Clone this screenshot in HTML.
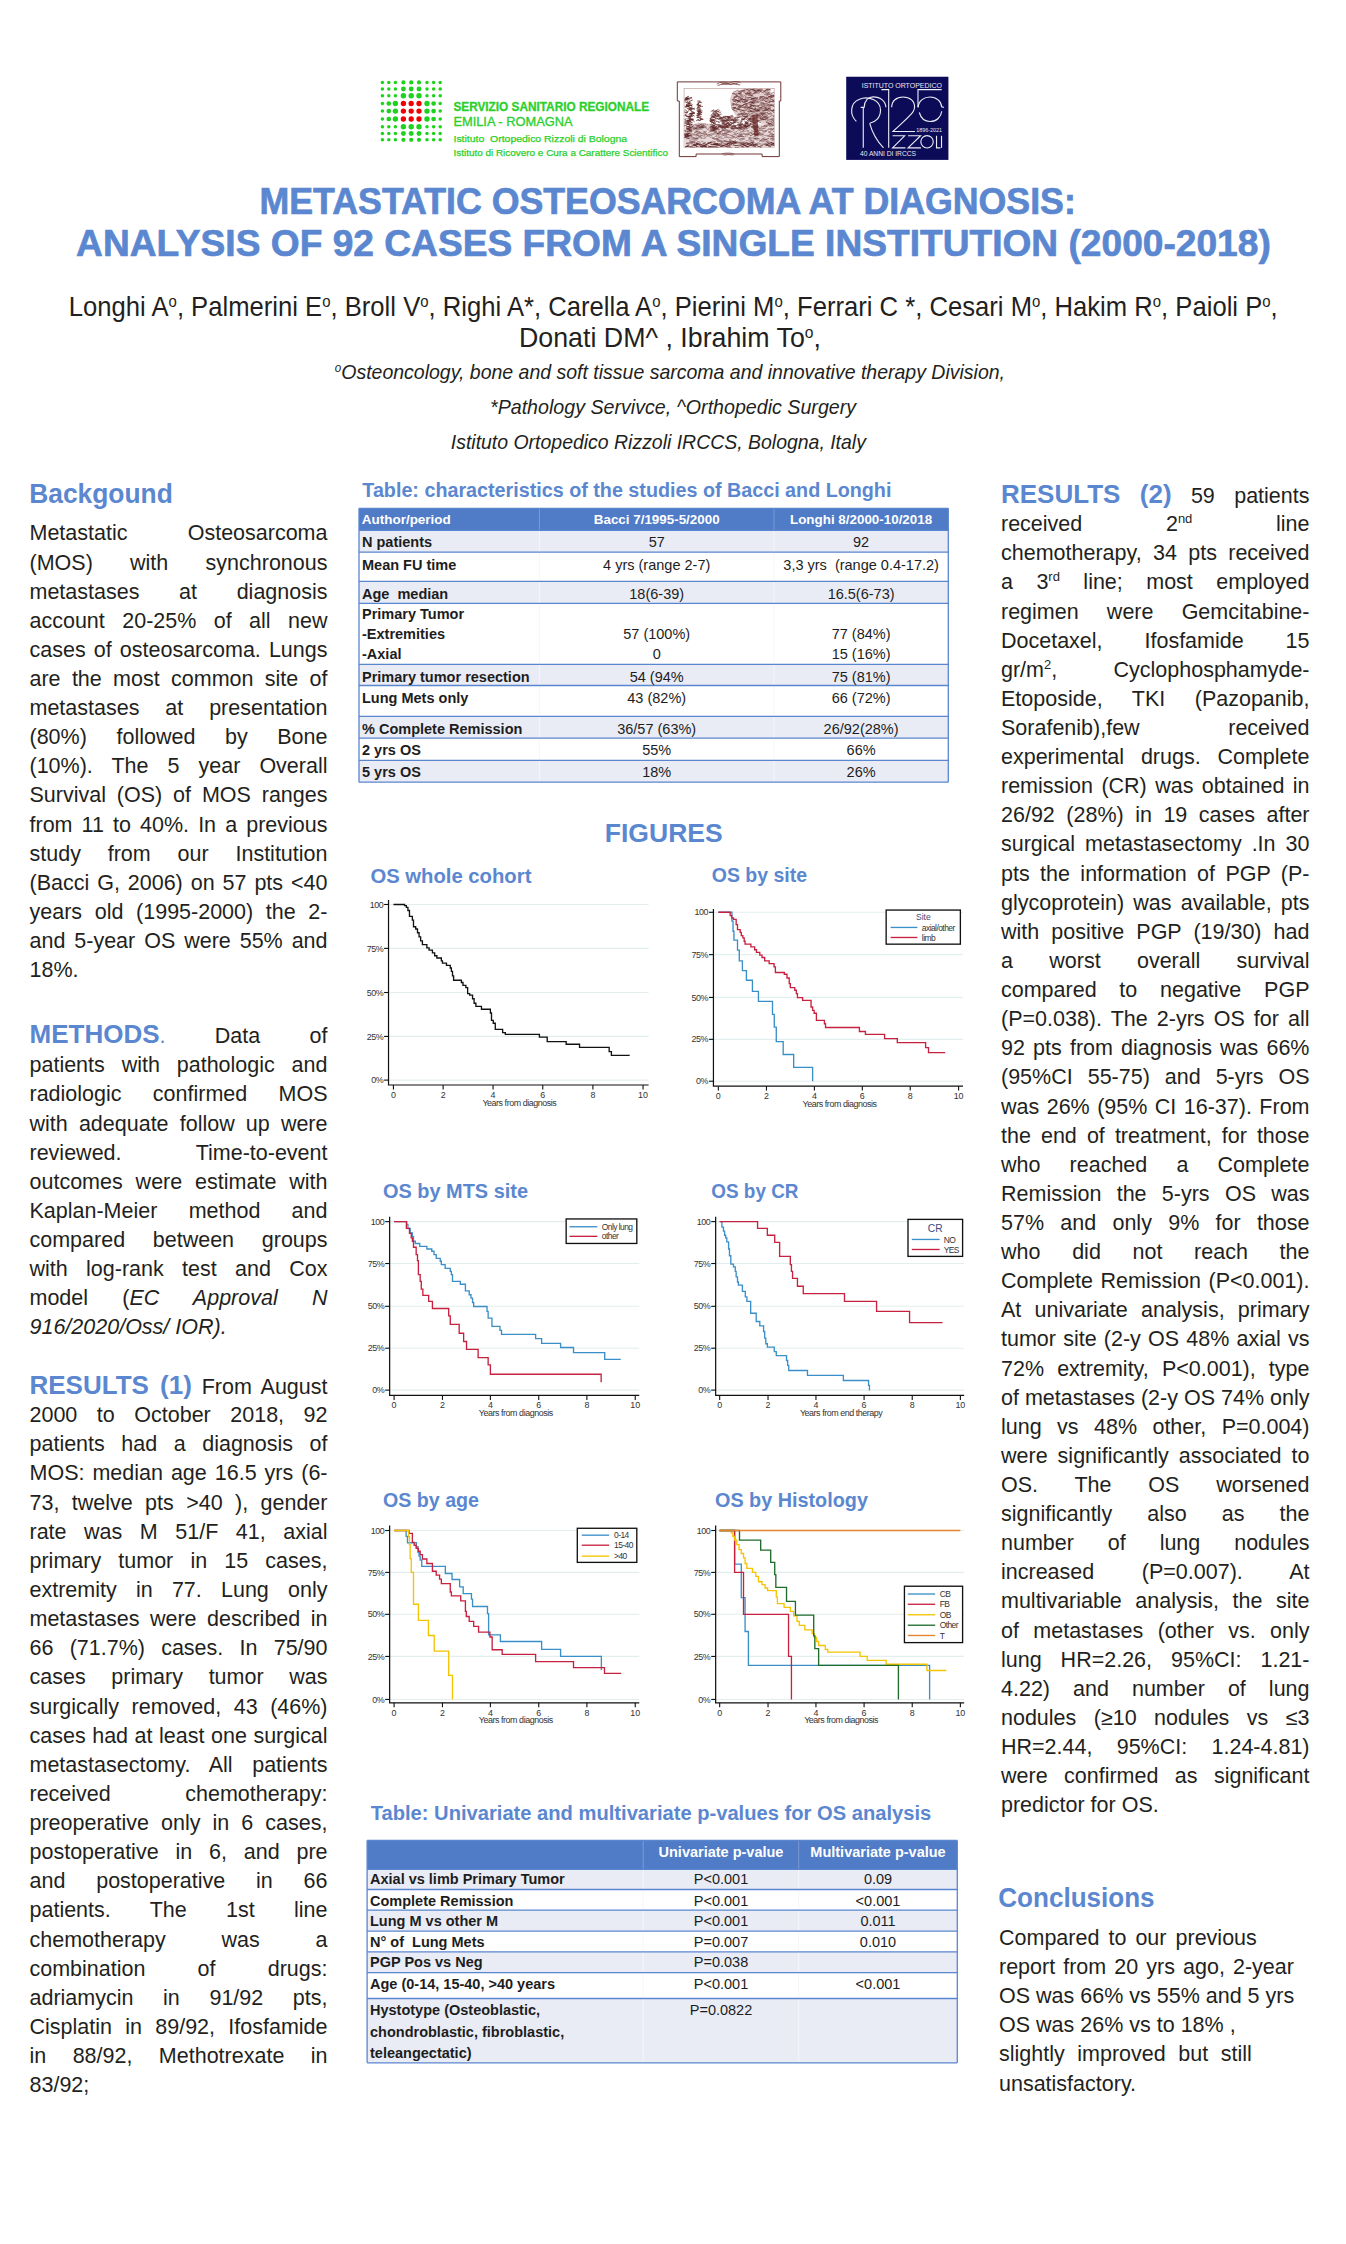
<!DOCTYPE html>
<html><head><meta charset="utf-8"><title>Metastatic Osteosarcoma at Diagnosis</title>
<style>
html,body{margin:0;padding:0;background:#fff}
body{width:1346px;height:2244px;position:relative;overflow:hidden;font-family:"Liberation Sans",sans-serif;color:#231f20}
.j,.l{position:absolute;white-space:nowrap;font-size:21.5px;line-height:40px;height:40px}
.j{text-align:justify;text-align-last:justify}
.l{text-align:left}
.h{font-weight:bold;color:#5b87d0}
.hb{color:#5b87d0}
.sup{font-size:13px;position:relative;top:-8px}
svg{position:absolute;left:0;top:0}
svg text{font-family:"Liberation Sans",sans-serif;white-space:pre}
</style></head><body>
<svg width="1346" height="2244" viewBox="0 0 1346 2244">
<circle cx="382.4" cy="82.4" r="1.75" fill="#1ed21e"/>
<circle cx="388.8" cy="82.4" r="1.75" fill="#1ed21e"/>
<circle cx="395.4" cy="82.4" r="1.75" fill="#1ed21e"/>
<circle cx="403.4" cy="82.4" r="2.1" fill="#1ed21e"/>
<circle cx="411.2" cy="82.4" r="2.1" fill="#1ed21e"/>
<circle cx="419.0" cy="82.4" r="2.1" fill="#1ed21e"/>
<circle cx="427.0" cy="82.4" r="1.75" fill="#1ed21e"/>
<circle cx="433.6" cy="82.4" r="1.75" fill="#1ed21e"/>
<circle cx="440.2" cy="82.4" r="1.75" fill="#1ed21e"/>
<circle cx="382.4" cy="89.0" r="1.75" fill="#1ed21e"/>
<circle cx="388.8" cy="89.0" r="1.75" fill="#1ed21e"/>
<circle cx="395.4" cy="89.0" r="1.75" fill="#1ed21e"/>
<circle cx="403.4" cy="89.0" r="2.45" fill="#1ed21e"/>
<circle cx="411.2" cy="89.0" r="2.45" fill="#1ed21e"/>
<circle cx="419.0" cy="89.0" r="2.45" fill="#1ed21e"/>
<circle cx="427.0" cy="89.0" r="1.75" fill="#1ed21e"/>
<circle cx="433.6" cy="89.0" r="1.75" fill="#1ed21e"/>
<circle cx="440.2" cy="89.0" r="1.75" fill="#1ed21e"/>
<circle cx="382.4" cy="95.7" r="1.75" fill="#1ed21e"/>
<circle cx="388.8" cy="95.7" r="1.75" fill="#1ed21e"/>
<circle cx="395.4" cy="95.7" r="1.75" fill="#1ed21e"/>
<circle cx="403.4" cy="95.7" r="2.7" fill="#1ed21e"/>
<circle cx="411.2" cy="95.7" r="2.7" fill="#1ed21e"/>
<circle cx="419.0" cy="95.7" r="2.7" fill="#1ed21e"/>
<circle cx="427.0" cy="95.7" r="1.75" fill="#1ed21e"/>
<circle cx="433.6" cy="95.7" r="1.75" fill="#1ed21e"/>
<circle cx="440.2" cy="95.7" r="1.75" fill="#1ed21e"/>
<circle cx="382.4" cy="103.5" r="1.75" fill="#1ed21e"/>
<circle cx="388.8" cy="103.5" r="2.35" fill="#1ed21e"/>
<circle cx="395.4" cy="103.5" r="2.7" fill="#1ed21e"/>
<circle cx="403.4" cy="103.5" r="2.65" fill="#f00000"/>
<circle cx="411.2" cy="103.5" r="2.65" fill="#f00000"/>
<circle cx="419.0" cy="103.5" r="2.65" fill="#f00000"/>
<circle cx="427.0" cy="103.5" r="2.7" fill="#1ed21e"/>
<circle cx="433.6" cy="103.5" r="2.35" fill="#1ed21e"/>
<circle cx="440.2" cy="103.5" r="1.75" fill="#1ed21e"/>
<circle cx="382.4" cy="111.1" r="1.75" fill="#1ed21e"/>
<circle cx="388.8" cy="111.1" r="2.35" fill="#1ed21e"/>
<circle cx="395.4" cy="111.1" r="2.7" fill="#1ed21e"/>
<circle cx="403.4" cy="111.1" r="2.65" fill="#f00000"/>
<circle cx="411.2" cy="111.1" r="2.65" fill="#f00000"/>
<circle cx="419.0" cy="111.1" r="2.65" fill="#f00000"/>
<circle cx="427.0" cy="111.1" r="2.7" fill="#1ed21e"/>
<circle cx="433.6" cy="111.1" r="2.35" fill="#1ed21e"/>
<circle cx="440.2" cy="111.1" r="1.75" fill="#1ed21e"/>
<circle cx="382.4" cy="119.0" r="1.75" fill="#1ed21e"/>
<circle cx="388.8" cy="119.0" r="2.35" fill="#1ed21e"/>
<circle cx="395.4" cy="119.0" r="2.7" fill="#1ed21e"/>
<circle cx="403.4" cy="119.0" r="2.65" fill="#f00000"/>
<circle cx="411.2" cy="119.0" r="2.65" fill="#f00000"/>
<circle cx="419.0" cy="119.0" r="2.65" fill="#f00000"/>
<circle cx="427.0" cy="119.0" r="2.7" fill="#1ed21e"/>
<circle cx="433.6" cy="119.0" r="2.35" fill="#1ed21e"/>
<circle cx="440.2" cy="119.0" r="1.75" fill="#1ed21e"/>
<circle cx="382.4" cy="126.7" r="1.75" fill="#1ed21e"/>
<circle cx="388.8" cy="126.7" r="1.75" fill="#1ed21e"/>
<circle cx="395.4" cy="126.7" r="1.75" fill="#1ed21e"/>
<circle cx="403.4" cy="126.7" r="2.7" fill="#1ed21e"/>
<circle cx="411.2" cy="126.7" r="2.7" fill="#1ed21e"/>
<circle cx="419.0" cy="126.7" r="2.7" fill="#1ed21e"/>
<circle cx="427.0" cy="126.7" r="1.75" fill="#1ed21e"/>
<circle cx="433.6" cy="126.7" r="1.75" fill="#1ed21e"/>
<circle cx="440.2" cy="126.7" r="1.75" fill="#1ed21e"/>
<circle cx="382.4" cy="133.5" r="1.75" fill="#1ed21e"/>
<circle cx="388.8" cy="133.5" r="1.75" fill="#1ed21e"/>
<circle cx="395.4" cy="133.5" r="1.75" fill="#1ed21e"/>
<circle cx="403.4" cy="133.5" r="2.45" fill="#1ed21e"/>
<circle cx="411.2" cy="133.5" r="2.45" fill="#1ed21e"/>
<circle cx="419.0" cy="133.5" r="2.45" fill="#1ed21e"/>
<circle cx="427.0" cy="133.5" r="1.75" fill="#1ed21e"/>
<circle cx="433.6" cy="133.5" r="1.75" fill="#1ed21e"/>
<circle cx="440.2" cy="133.5" r="1.75" fill="#1ed21e"/>
<circle cx="382.4" cy="139.8" r="1.75" fill="#1ed21e"/>
<circle cx="388.8" cy="139.8" r="1.75" fill="#1ed21e"/>
<circle cx="395.4" cy="139.8" r="1.75" fill="#1ed21e"/>
<circle cx="403.4" cy="139.8" r="2.1" fill="#1ed21e"/>
<circle cx="411.2" cy="139.8" r="2.1" fill="#1ed21e"/>
<circle cx="419.0" cy="139.8" r="2.1" fill="#1ed21e"/>
<circle cx="427.0" cy="139.8" r="1.75" fill="#1ed21e"/>
<circle cx="433.6" cy="139.8" r="1.75" fill="#1ed21e"/>
<circle cx="440.2" cy="139.8" r="1.75" fill="#1ed21e"/>
<text x="453.4" y="110.9" font-size="12.4" font-weight="bold" fill="#2bcf2b" textLength="195.7" lengthAdjust="spacingAndGlyphs" stroke="#2bcf2b" stroke-width="0.3">SERVIZIO SANITARIO REGIONALE</text>
<text x="453.4" y="125.6" font-size="12.4" fill="#2bcf2b" textLength="119.2" lengthAdjust="spacingAndGlyphs" stroke="#2bcf2b" stroke-width="0.3">EMILIA - ROMAGNA</text>
<text x="453.5" y="141.6" font-size="9.6" fill="#2bcf2b" textLength="173.6" lengthAdjust="spacingAndGlyphs" stroke="#2bcf2b" stroke-width="0.25">Istituto  Ortopedico Rizzoli di Bologna</text>
<text x="453.5" y="155.5" font-size="9.6" fill="#2bcf2b" textLength="214.5" lengthAdjust="spacingAndGlyphs" stroke="#2bcf2b" stroke-width="0.25">Istituto di Ricovero e Cura a Carattere Scientifico</text>
<path d="M677.3,81.9 L780.8,81.9 L780.8,101.0 L779.3,101.0 L779.3,156.6 L762.1,156.6 L762.1,154.0 L696.1,154.0 L696.1,156.6 L679.3,156.6 L679.3,101.0 L677.3,101.0 L677.3,81.9" fill="none" stroke="#6e3434" stroke-width="1.0"/>
<g transform="translate(672,76) scale(0.08621)">
<clipPath id="etc"><rect x="140" y="145" width="1045" height="685"/></clipPath>
<rect x="140" y="145" width="1045" height="685" fill="#fff" stroke="#c0a0a0" stroke-width="8"/>
<path d="M140,600 L300,540 L500,560 L700,590 L900,560 L1185,560 L1185,830 L140,830 Z" fill="#e7d9d9"/>
<path d="M670,270 L700,190 L820,150 L980,150 L1120,160 L1185,220 L1185,560 L1060,560 L960,520 L860,510 L740,460 L690,380 Z" fill="#e2d0d0"/>
<path d="M930,450 L955,700 L1005,700 L990,450 Z" fill="#8a5050"/>
<path d="M520,95 C560,60 620,70 660,85 C700,60 760,55 795,80 M530,110 C580,90 620,100 660,95 C700,90 750,95 790,105 M560,75 C600,105 640,70 680,100 C720,70 760,100 770,75" fill="none" stroke="#7a4545" stroke-width="10"/>
<path d="M575,905 C610,890 690,890 725,905 M600,918 C640,910 680,910 710,918" fill="none" stroke="#7a4545" stroke-width="8"/>
<g clip-path="url(#etc)">
<path d="M181 513q28 -1 57 -2 M193 337q20 -2 40 6 M148 393q11 1 22 9 M144 712q29 4 58 11 M154 257q18 -5 36 -21 M162 264q19 -7 38 -3 M187 551q20 5 39 8 M204 398q14 3 28 -7 M209 438q27 -11 53 -7 M159 678q16 12 33 21 M147 546q25 -0 49 -14 M170 703q23 -7 45 -22 M149 278q24 -11 48 -20 M180 340q22 -13 45 -21 M150 448q14 -11 27 -8 M212 393q26 -8 52 -19 M217 552q10 11 20 13 M163 613q16 3 32 -8 M148 524q15 4 30 4 M184 520q25 -5 51 -20 M162 339q21 17 43 25 M194 448q10 -14 21 -13 M161 581q14 4 28 11 M166 332q21 -8 42 -24 M190 651q22 -12 43 -12 M158 258q15 6 31 -2 M156 423q19 -7 39 -18 M199 575q20 -2 39 -18 M142 678q20 20 41 25 M197 477q24 -13 48 -11 M147 507q22 8 44 23 M222 415q21 5 42 22 M178 622q27 0 54 5 M174 524q19 -13 39 -21 M206 433q25 3 49 5 M194 476q14 3 28 7 M163 255q16 8 31 7 M155 676q23 -8 46 -3 M169 563q14 -6 28 -2 M175 524q15 -7 30 -14 M165 329q18 -0 37 -10 M177 544q19 -10 39 -9 M147 265q23 -18 47 -29 M191 395q22 -8 43 -28 M181 262q25 -2 51 -16 M144 546q19 0 37 6 M202 344q18 0 36 -15 M182 586q13 -1 26 -7 M203 495q21 8 42 13 M148 688q22 -10 44 -21 M174 517q26 3 52 19 M182 556q14 -1 27 7 M198 587q13 -1 25 13 M211 401q26 14 51 23 M147 457q20 7 40 13 M143 630q11 9 21 8 M170 620q12 -6 23 -10 M148 354q20 -9 40 -10 M197 496q27 5 54 4 M174 647q26 -15 53 -19 M192 344q21 -2 41 0 M142 706q20 -7 40 -5 M191 481q21 -12 41 -24 M177 700q27 -7 55 -16 M151 454q23 13 47 24 M169 340q20 17 39 22 M157 357q23 -3 46 -10 M196 299q22 -11 44 -22 M163 343q21 0 41 -3 M177 499q12 -7 25 -9 M197 499q27 -2 54 7 M161 598q23 15 46 24 M168 684q12 2 24 16 M152 362q24 -1 47 -14 M215 448q23 -10 46 -22 M202 258q14 -4 27 6 M186 606q20 9 39 9 M146 300q11 0 21 1 M191 319q13 -10 26 -10 M149 279q29 -6 58 -3 M169 469q20 -3 40 -3 M141 579q25 -9 50 -20 M207 440q13 -6 26 -11 M141 670q25 1 51 13 M197 440q22 -8 44 0 M212 371q27 4 54 16 M213 441q25 9 50 25 M177 590q11 -2 22 -4 M141 417q23 8 45 7 M170 560q21 3 43 2 M203 608q25 -18 50 -32 M206 371q15 -4 31 -19 M174 296q13 6 27 14 M197 630q11 -3 23 3 M144 687q13 5 26 -1 M185 537q10 7 19 11 M187 531q17 -7 33 -9 M190 383q24 2 47 -12 M162 270q13 6 25 8 M145 715q25 -21 50 -28 M179 474q28 -9 56 -18 M214 534q12 3 24 4 M158 274q19 -8 37 -18 M200 464q15 3 30 3 M210 499q26 12 51 31 M161 304q26 7 52 19 M172 378q24 0 47 4 M197 604q13 -12 26 -8 M144 279q15 -3 31 -3 M149 505q10 -8 20 -11" fill="none" stroke="#5e2626" stroke-width="10" opacity="0.9"/>
<path d="M308 433q12 4 24 -1 M297 460q16 -3 31 -18 M320 432q16 -5 32 -12 M293 475q12 -6 24 4 M296 414q15 9 29 16 M298 308q16 -2 32 -18 M308 399q16 -8 31 -8 M284 335q14 -4 28 -15 M316 448q10 -2 20 -9 M316 371q9 1 17 4 M326 506q19 -6 38 -3 M295 360q11 -0 22 12 M292 370q12 -0 24 -4 M299 331q14 4 27 10 M322 417q9 -3 18 6 M294 290q14 -0 28 1 M320 300q13 12 27 10 M284 458q16 -11 33 -18 M287 460q15 -0 30 -9 M318 408q17 0 34 -4 M305 411q16 -3 32 8 M301 479q14 2 29 13 M322 494q19 3 38 7 M316 474q13 4 25 -2 M317 518q11 -0 22 -9 M301 354q17 -7 34 -20 M286 437q16 1 32 -13 M303 422q16 -4 32 -20 M289 336q10 1 20 5 M291 328q10 -8 20 -8 M296 414q18 3 35 -1 M324 500q12 -7 24 1 M304 337q7 -1 14 8 M299 409q13 -12 27 -7 M313 341q8 2 15 -1 M320 453q14 -1 28 -12 M296 346q18 -2 37 1 M307 320q14 -15 28 -19 M322 478q8 -6 16 -5 M285 398q11 6 23 14 M323 356q17 -8 35 -3 M285 479q10 0 20 1 M288 481q11 4 22 -5 M295 395q16 -6 32 -6 M285 378q11 2 22 14 M299 452q10 1 21 2 M281 518q16 -8 33 -12 M295 373q14 -1 28 -7 M300 442q10 -7 20 -8 M296 507q14 7 28 8 M369 822q20 -1 40 1 M337 829q35 -21 71 -34 M169 814q49 16 97 16 M207 822q48 -20 96 -27 M479 790q27 7 55 -0 M1149 791q43 -14 86 -16 M726 805q46 4 93 7 M321 820q42 -10 84 -4 M625 817q25 -6 51 -9 M410 830q54 6 108 19 M423 819q50 -4 100 -5 M824 792q20 -8 40 -16 M805 823q27 -10 54 -23 M311 793q36 14 72 16 M322 804q35 -17 71 -29 M730 828q53 15 106 16 M686 794q26 -18 52 -29 M826 794q23 15 47 31 M869 792q51 14 102 27 M257 802q20 -12 39 -14 M256 790q27 22 54 34 M575 807q22 9 43 3 M474 796q55 -1 109 -8 M484 795q25 -9 50 -11 M508 791q20 10 40 14 M423 822q54 10 108 7 M1014 818q20 -11 40 -10 M637 789q51 -13 103 -37 M866 829q38 -17 75 -49 M364 813q48 -27 96 -48 M1083 796q31 11 62 23 M790 787q46 13 92 32 M814 829q47 15 95 25 M153 830q19 -13 38 -23 M1177 802q23 -9 46 -30 M519 797q26 5 53 26 M1162 790q41 -17 82 -35 M663 796q45 -21 90 -31 M940 811q20 -15 41 -20 M1142 792q41 7 83 26 M282 790q22 7 43 10 M869 788q41 -10 82 -23 M757 828q25 16 50 18 M325 815q21 3 42 18 M369 815q36 23 72 46 M525 824q26 16 52 28 M566 822q43 -20 86 -34 M1173 800q39 4 78 15 M548 799q26 7 52 8 M934 788q47 21 93 38 M244 791q23 10 46 30 M165 780q40 -3 79 -4 M1019 822q21 14 42 26 M631 788q26 -7 53 -21 M709 793q26 -6 53 -27 M1092 802q32 -23 65 -31 M153 819q21 -5 42 -11 M616 815q39 17 78 19 M446 794q37 3 73 -7 M274 783q22 -4 43 8" fill="none" stroke="#5e2626" stroke-width="10" opacity="0.95"/>
<path d="M500 398q23 11 46 12 M631 580q19 -6 39 -21 M509 405q16 -16 32 -18 M644 500q22 2 44 14 M630 546q28 8 56 20 M619 500q24 8 48 20 M509 563q28 4 56 3 M688 550q25 -17 50 -19 M472 435q21 8 42 10 M882 508q21 5 42 3 M839 522q12 8 23 9 M717 579q14 8 27 2 M766 556q18 -3 35 4 M623 515q13 4 27 1 M910 522q19 -4 39 -4 M775 561q25 -8 50 -1 M849 584q18 -2 36 -3 M883 504q20 -8 41 -3 M793 596q24 -1 49 6 M582 520q10 -4 21 -10 M681 472q11 2 21 5 M464 598q29 -0 58 12 M641 572q14 3 28 8 M699 608q10 0 19 -6 M878 575q18 -4 35 -6 M679 604q30 4 59 -2 M578 601q26 -15 52 -20 M607 491q12 -2 24 12 M531 530q12 13 25 12 M483 553q14 2 29 15 M778 605q17 -5 33 -18 M584 549q13 -1 26 -10 M762 569q17 -3 34 7 M580 602q23 -8 45 -12 M475 616q19 0 38 1 M453 522q15 -9 30 -9 M474 445q24 -4 48 -15 M447 488q25 -10 50 -7 M708 533q17 -1 34 6 M688 499q26 6 53 12 M650 564q24 13 48 18 M720 497q11 -2 21 2 M716 589q12 2 25 -11 M678 481q18 -10 36 -11 M466 597q21 -4 43 2 M587 527q20 -7 39 -11 M474 576q13 2 26 -8 M775 579q22 -12 44 -26 M675 562q27 -12 54 -25 M550 593q13 2 25 -3 M447 619q24 11 49 14 M557 510q15 -8 30 -1 M921 525q11 -4 21 -3 M459 459q22 9 43 20 M626 582q17 10 33 12 M770 586q14 5 28 -4 M521 439q16 5 31 17 M507 604q16 2 33 11 M591 469q10 8 21 10 M815 502q11 3 22 -3 M450 412q19 -9 37 -23 M642 508q12 7 25 6 M793 538q12 -1 24 -9 M623 587q14 -1 28 -7 M442 529q20 0 40 15 M579 539q27 -13 54 -19 M644 471q11 1 22 -3 M509 474q18 -10 36 -15 M601 478q13 -2 26 3 M707 547q10 1 21 -3 M461 474q11 -1 22 -0 M604 593q20 -9 41 -12 M523 490q19 14 38 23 M718 606q25 2 50 8 M635 477q14 -0 29 12 M621 598q10 -5 20 -9 M526 431q22 1 45 -15 M550 496q23 -1 46 3 M710 579q29 -3 58 -12 M788 545q20 7 40 25 M510 527q20 4 40 3 M573 558q20 -2 39 -13 M481 548q12 -5 24 -1 M863 588q11 -3 21 -6 M597 561q25 9 50 21 M640 548q21 4 41 17 M493 467q22 -2 44 -15 M437 518q24 21 49 31 M454 550q11 -3 21 -13 M490 456q11 1 21 1 M830 580q16 -4 31 -4 M625 545q20 13 39 15 M544 493q17 2 33 -10 M462 594q14 -3 28 -16 M531 587q20 -7 39 -4 M705 536q22 -13 43 -12 M652 579q23 -2 45 -19 M467 463q24 -6 49 -11 M694 573q25 9 50 14 M832 578q21 20 42 28 M624 465q22 11 43 17 M570 597q15 -5 29 -15 M802 509q22 -3 44 -18 M501 461q15 -10 31 -21 M699 608q13 9 25 12 M634 548q13 -6 26 -7 M522 463q27 -14 54 -24 M619 533q14 -4 28 4 M858 529q20 8 40 3 M849 544q19 5 37 8 M730 515q17 -13 34 -22 M653 520q19 16 38 22 M631 588q10 7 21 14 M547 581q20 6 40 23 M829 500q26 -21 52 -30 M698 587q13 -6 27 -7 M467 511q26 4 51 -1 M830 584q25 -5 51 3 M448 460q25 17 50 21 M521 470q27 -3 53 8 M466 617q14 -4 28 4 M764 481q10 1 20 -4 M732 545q12 -9 25 -12 M488 606q22 1 44 -8 M927 544q24 -1 49 -8 M746 479q26 -2 52 -6 M683 606q16 8 33 8 M857 541q17 11 33 19 M802 522q16 -8 33 -19 M571 483q28 -10 56 -14 M840 583q22 8 44 2 M612 467q24 7 48 10 M442 530q19 -3 38 -6 M588 539q19 4 37 24 M844 534q20 20 40 27 M661 473q22 -16 44 -15 M535 466q13 -5 26 -3 M472 416q23 -0 45 7 M557 574q23 14 47 16 M606 506q18 -14 37 -19 M581 499q12 7 25 2 M474 500q15 9 30 10 M539 486q21 -7 42 -2 M482 583q11 7 22 14 M633 525q23 16 46 29 M839 555q22 -10 44 -19 M580 612q21 17 42 19 M674 535q24 13 48 28 M680 596q17 -8 35 -9 M645 492q17 -1 34 -3 M455 580q11 -0 22 1 M480 466q16 4 33 -1 M805 494q10 -9 20 -2 M434 520q29 -6 58 -9 M735 519q16 -0 33 -0 M476 437q14 7 29 11 M573 542q10 1 20 13 M840 568q20 -16 39 -23 M454 528q18 8 37 21 M441 604q25 10 50 5 M654 482q12 -6 24 -5 M466 403q26 5 52 11 M487 404q14 7 28 17 M637 506q24 -18 48 -23 M646 467q20 12 41 23 M605 520q20 -4 40 -5 M722 493q29 -9 58 -12 M795 516q13 -13 26 -15 M619 551q18 2 37 5 M918 598q19 4 38 -1 M583 583q10 1 21 5 M506 608q24 16 47 18 M530 506q20 -14 40 -20 M721 595q28 9 55 13 M906 551q14 3 29 13 M440 507q15 0 29 -7 M496 494q15 -0 30 -8 M685 589q12 -0 24 11 M735 508q25 -2 49 2 M890 565q13 -15 26 -15 M611 568q15 1 29 -2 M683 514q16 -13 32 -11 M485 605q20 -18 40 -23 M481 514q10 10 21 14 M445 515q29 1 58 13 M822 503q12 5 23 1 M673 512q29 8 59 4 M781 605q25 8 51 30 M440 495q21 3 43 10 M737 604q12 -7 23 1 M845 544q20 -2 41 4 M464 570q27 13 54 23 M437 564q15 1 30 3 M598 540q18 -12 36 -12 M557 492q25 -1 50 -10 M595 553q22 7 44 16 M469 562q14 -4 28 -10 M608 598q30 2 59 -8 M825 567q16 8 32 11 M574 520q25 -6 50 -1 M437 497q15 -15 31 -18 M502 425q23 8 47 29 M601 603q12 -4 25 7 M769 591q21 13 42 25 M567 605q11 -2 21 -8 M455 450q12 -6 25 -12 M700 514q25 -6 50 2 M471 430q11 -7 22 -5 M892 498q13 -4 26 -5 M577 569q29 -3 59 -3 M525 606q25 -20 50 -32 M511 417q23 -1 47 -17 M540 571q20 4 39 7 M560 527q17 -3 35 -1 M872 517q18 2 37 2 M596 599q13 2 25 15 M478 543q17 1 34 2 M891 501q15 -10 29 -20 M565 516q23 6 45 -2 M679 493q19 16 39 24 M845 570q13 7 27 14 M643 511q29 -0 58 -1 M575 581q20 1 39 -8 M538 579q22 7 44 28 M773 570q23 4 45 18 M518 575q15 -12 31 -10 M441 500q16 4 32 12 M921 588q15 -9 30 -12 M864 563q23 10 46 22 M902 532q20 -0 39 -5 M757 565q24 3 48 1 M754 543q28 -13 57 -12 M906 527q28 12 55 19 M570 503q17 -16 34 -21 M698 491q24 -3 48 -15 M456 462q18 8 35 21 M637 475q15 -8 29 -1 M491 481q23 6 45 15 M751 605q27 -9 54 -17 M929 504q13 11 26 9" fill="none" stroke="#5e2626" stroke-width="9" opacity="0.85"/>
<path d="M747 376q18 1 36 10 M834 464q26 7 53 13 M893 194q20 6 40 24 M809 435q20 -8 40 -19 M965 455q21 1 42 8 M987 169q26 -5 51 -25 M914 157q14 -1 28 -4 M1109 350q25 -13 50 -11 M732 275q16 7 32 15 M881 314q31 -14 62 -19 M1035 334q21 -1 41 -3 M833 406q21 -9 42 -10 M904 344q32 0 64 -4 M1132 550q30 -6 60 -7 M1052 271q25 12 49 30 M1014 328q26 -13 51 -18 M846 442q13 -6 26 -3 M804 402q17 -10 35 -4 M701 389q28 14 57 24 M974 442q28 7 57 17 M800 439q25 -6 50 3 M837 448q33 -10 65 -18 M942 353q16 -4 32 5 M1012 269q30 3 61 -6 M982 339q20 12 41 27 M1161 295q26 -11 52 -29 M1026 433q31 -1 62 -9 M855 370q13 -4 26 -4 M747 278q28 20 56 32 M762 198q14 1 27 10 M806 351q24 -20 48 -30 M1113 237q28 9 55 13 M1122 240q23 -4 45 -10 M1088 384q22 19 44 29 M785 404q13 11 27 17 M897 327q27 12 55 30 M758 296q27 -16 54 -19 M1119 243q20 -10 39 -13 M950 389q13 -5 25 -15 M1177 396q28 -10 55 -32 M761 262q27 9 54 13 M911 269q25 -2 50 -9 M798 270q15 -7 31 -20 M975 260q14 7 28 12 M934 278q31 8 62 19 M1010 434q24 -1 47 -5 M930 342q24 -4 49 2 M1130 242q13 4 25 -6 M1080 404q18 -13 35 -14 M1101 430q27 9 54 16 M875 377q27 11 54 36 M1100 180q15 9 30 19 M935 277q32 -7 64 1 M871 412q15 -6 30 2 M894 463q26 8 51 5 M1017 239q23 4 45 2 M968 409q12 -7 24 -9 M780 180q29 -13 58 -12 M958 192q26 -13 51 -15 M1043 461q12 -12 23 -15 M742 233q12 -5 24 -10 M1163 282q17 12 34 14 M997 402q29 -18 57 -35 M867 488q18 10 35 9 M794 264q32 14 65 14 M766 247q17 4 35 15 M1175 425q26 -7 53 -7 M924 174q23 -4 47 -7 M1176 302q18 -10 36 -16 M1141 224q24 -4 48 -0 M961 248q16 11 32 9 M1115 164q17 -6 34 -1 M989 456q29 15 57 16 M1095 211q14 -1 27 -17 M1122 306q12 -13 25 -15 M980 526q12 -3 24 -12 M768 196q17 8 34 6 M757 370q19 -10 38 -17 M932 309q20 -14 39 -24 M770 288q11 4 23 11 M872 372q30 -13 61 -29 M1035 303q25 21 50 27 M817 270q28 7 55 20 M1146 226q19 5 39 18 M1051 505q20 -5 41 5 M1132 387q27 13 54 37 M744 316q23 -15 46 -22 M814 282q24 -9 49 -19 M1111 555q18 -6 36 -6 M772 378q17 -3 33 -23 M998 177q27 -9 54 -18 M1042 501q33 -0 67 -6 M875 278q29 -4 58 -3 M1168 233q24 -3 48 -21 M883 225q29 -0 58 5 M907 488q28 -4 56 3 M862 196q23 -10 45 -29 M703 368q15 -3 31 4 M847 199q27 1 53 15 M955 389q31 -1 62 13 M818 467q27 7 53 -2 M915 258q26 0 52 1 M700 204q26 -2 51 11 M1078 269q23 -5 46 0 M919 313q23 -12 46 -8 M694 314q14 9 28 6 M747 324q25 9 50 16 M822 301q31 -3 61 -22 M1126 348q14 -13 28 -13 M1056 176q26 -8 52 -19 M982 171q33 -1 66 -13 M1072 195q13 3 26 5 M1134 474q15 -11 29 -18 M912 273q31 -14 62 -23 M1159 403q19 -1 38 10 M1079 167q22 -11 43 -20 M1159 505q18 4 36 2 M757 455q29 -4 58 -12 M1029 448q21 -4 41 -20 M926 414q20 2 41 -6 M1172 398q15 2 30 7 M986 466q24 4 47 23 M879 416q21 -0 42 -4 M1003 295q19 3 37 17 M1018 496q21 8 42 7 M832 191q27 18 53 30 M865 198q15 -4 31 5 M713 254q28 -16 56 -19 M852 344q17 -3 33 -8 M813 449q13 -3 26 4 M838 229q13 -12 27 -15 M981 156q23 6 45 5 M688 323q17 13 35 22 M1145 506q23 -16 46 -22 M716 378q13 -5 26 -14 M968 518q32 8 65 21 M914 469q25 -11 51 -22 M883 361q28 5 56 13 M1076 488q13 1 27 -12 M829 330q23 5 46 4 M1071 286q29 19 59 22 M952 188q28 -12 56 -32 M1066 392q27 -3 55 -6 M775 340q18 10 36 8 M741 231q24 10 49 5 M1178 493q19 -14 39 -17 M1173 223q27 4 55 22 M777 199q15 -12 31 -10 M1139 344q15 1 30 -5 M1004 445q30 -2 60 -5 M911 302q22 2 44 10 M838 382q13 -6 27 -16 M855 163q14 -8 28 -3 M1101 162q19 -0 39 -6 M741 392q31 1 62 -9 M1064 245q27 17 54 20 M767 279q29 12 57 17 M903 296q22 12 43 16 M1087 527q22 7 44 27 M732 274q21 6 41 18 M1116 359q13 -0 26 -7 M976 486q13 -8 27 -8 M845 243q12 -6 24 -14 M951 314q24 1 49 -13 M1017 288q23 0 47 -7 M697 272q17 -1 34 -17 M918 158q32 -4 64 -11 M941 160q14 4 28 10 M924 291q29 -5 59 0 M1100 516q28 7 56 12 M945 387q23 3 45 18 M987 395q28 -17 56 -34 M755 381q15 5 30 9 M1049 276q27 -14 54 -36 M1048 510q29 -1 58 -16 M1035 450q12 6 24 14 M687 347q18 -15 36 -18 M1151 201q22 -9 43 -12 M727 287q22 0 43 -1 M1150 522q30 -6 59 -20 M907 414q26 -13 51 -9 M831 158q14 -9 27 -10 M1103 167q17 -10 34 -11 M1132 258q13 0 25 16 M1039 344q28 9 56 18 M810 365q27 -8 54 -11 M779 243q29 11 59 35 M1103 498q31 9 62 5 M1047 493q27 -9 54 -33 M1046 350q27 19 54 36 M1018 423q28 -7 56 -9 M1043 479q21 -7 43 -16 M1020 375q12 -7 25 -17 M796 243q17 -5 35 -4 M1140 427q12 4 23 11 M1047 402q20 3 40 -8 M1012 172q25 10 49 26 M982 481q32 5 63 25 M907 156q26 -1 52 9 M985 299q12 3 23 10 M1177 393q30 2 60 20 M874 155q20 -11 39 -7 M873 263q25 -10 50 -26 M873 201q26 -7 52 -5 M771 368q15 -7 29 -19 M1131 270q23 4 47 1 M945 177q20 -10 39 -10 M1067 437q23 7 47 22 M698 203q27 4 54 23 M1069 215q25 2 50 8 M933 260q34 2 68 -10 M1015 256q17 -6 34 -8 M835 423q27 12 55 37 M1145 254q27 -16 55 -29 M709 191q31 -18 61 -29 M941 150q26 -21 52 -31 M1092 353q19 -15 38 -24 M690 366q33 13 65 14 M1041 438q19 5 38 13 M883 366q18 -11 36 -9 M850 466q19 0 39 -15 M1166 458q34 11 69 7 M985 405q33 -4 66 -16 M784 210q13 1 26 -0 M832 489q22 -4 44 -22 M984 508q13 8 26 7 M1024 492q28 -3 55 -17 M1168 525q33 9 66 3 M705 271q12 8 24 12 M712 296q17 -3 34 -3 M1009 190q21 -12 42 -25 M1086 258q30 -8 59 -19 M955 370q25 12 49 29 M785 232q23 -7 45 -12 M885 170q13 2 26 15 M1124 310q32 -17 64 -27 M1155 236q11 1 23 -11 M1084 399q21 -13 42 -21 M741 205q25 -0 51 9 M1096 206q18 -8 35 -16 M1021 481q21 6 41 22 M1097 480q17 4 34 -6 M1064 344q34 -8 67 -17 M1116 547q26 6 53 26 M810 403q14 -4 27 6 M930 210q22 -12 44 -25 M711 321q30 3 59 18 M906 331q13 4 26 9 M880 210q20 -5 39 -23 M711 324q14 4 29 12 M1116 377q16 -10 31 -9 M971 415q23 -9 46 -28 M892 496q34 8 67 7 M694 379q19 15 38 21 M1119 213q13 5 26 2 M986 524q28 -9 57 -15 M819 461q17 5 33 16 M1129 292q34 7 68 7 M1003 277q13 -10 26 -16 M795 191q27 -17 55 -25 M811 299q31 8 62 26 M1175 397q33 4 66 10 M837 305q24 -10 48 -15 M1115 445q15 -7 30 -19 M894 497q25 -1 50 1 M955 428q25 6 50 3 M734 330q28 20 56 33 M966 363q21 -13 42 -17 M714 243q18 -2 35 -13 M711 365q16 1 32 6 M992 347q25 -6 51 -13 M1025 238q29 -5 58 6 M987 375q29 -5 58 -15 M893 451q27 -18 53 -21 M1176 353q35 7 69 10 M974 445q25 10 50 18 M1052 398q27 -1 53 3 M958 187q27 8 54 13 M1170 347q16 2 32 0 M761 442q16 -8 33 1 M1138 334q27 4 54 -3 M853 331q29 -15 57 -29 M913 377q30 6 60 7 M1162 396q19 -5 37 2 M921 268q15 -4 31 -10 M887 397q18 3 37 5 M1080 480q15 9 30 19 M843 254q28 -5 57 -4 M896 314q25 -0 51 1 M1053 188q29 -12 58 -38 M1092 263q12 -5 24 -10 M698 279q20 10 40 25 M1110 392q32 11 65 14 M862 347q13 8 26 15 M773 352q29 -10 59 -16 M717 249q17 -3 33 0 M787 432q25 -0 49 15 M904 359q14 -10 29 -16 M713 372q16 -9 32 -9 M900 210q23 14 46 31 M899 371q26 7 52 22 M798 470q13 -7 27 -13 M765 380q16 11 33 19 M1090 537q22 7 43 14 M876 201q24 10 48 26 M833 365q20 -7 41 -5 M934 210q28 -7 55 -17 M798 395q22 6 43 10 M1074 376q15 4 30 -0 M917 453q16 9 32 5 M784 202q12 -1 23 12 M859 155q28 13 57 11 M1065 178q17 2 34 12 M791 358q30 3 61 8 M765 178q17 -1 33 1 M907 411q25 6 50 9 M1104 368q27 13 54 36 M1068 433q24 -1 48 -15 M1010 252q26 -0 52 3 M891 248q19 -2 38 9 M834 279q22 -4 45 -4 M1059 465q30 1 59 16 M901 333q26 -11 53 -12 M885 378q24 4 48 -8 M813 345q31 -21 61 -29 M1171 474q16 -16 31 -20 M705 272q33 2 66 14 M1099 223q21 -9 42 -22 M925 485q19 10 37 8 M802 174q25 -1 51 5 M1042 383q30 -9 60 -24 M954 396q33 15 66 15 M1156 342q16 3 33 11 M1110 376q18 -0 36 -1 M851 388q15 1 30 -9 M1050 315q33 2 65 9 M849 497q15 6 31 19 M762 450q16 -0 32 -4 M842 298q16 5 32 -4 M1080 295q28 -10 57 -5" fill="none" stroke="#5e2626" stroke-width="8" opacity="0.75"/>
<path d="M1059 723q35 12 71 38 M572 694q17 -0 34 -6 M582 666q40 12 80 13 M836 601q33 -11 67 -7 M609 611q21 15 41 25 M394 679q30 24 61 35 M484 728q29 4 58 14 M325 619q20 1 40 -10 M167 676q35 -9 69 -30 M901 561q19 3 38 -0 M960 672q30 3 61 -9 M998 641q35 -17 71 -36 M218 783q36 24 71 49 M906 696q27 -14 54 -23 M603 716q16 2 32 -8 M937 665q22 7 45 16 M444 642q13 -0 26 -15 M1145 768q27 15 54 32 M852 567q28 5 56 7 M822 629q33 -12 65 -24 M587 677q16 -9 32 -10 M314 664q44 2 89 12 M946 792q26 -7 53 -7 M167 662q23 -2 46 3 M1040 672q31 -20 63 -35 M1111 700q30 2 59 1 M327 591q39 8 78 1 M783 756q32 -20 64 -26 M330 672q27 -8 53 -22 M335 584q16 0 32 6 M403 787q28 -8 55 -3 M818 661q36 14 72 21 M213 730q37 11 74 9 M918 586q39 3 77 11 M218 635q33 -9 66 -33 M572 762q32 -4 64 -22 M1015 759q34 -16 68 -25 M474 789q15 -10 30 -13 M937 610q16 -0 32 14 M1090 687q17 3 34 10 M1009 737q25 17 51 33 M606 706q38 -3 77 8 M424 773q41 -0 81 -15 M768 701q44 -1 87 6 M934 584q35 2 70 -5 M427 634q37 5 74 5 M198 745q35 10 69 30 M206 613q28 -12 56 -14 M170 698q33 9 66 3 M726 676q23 -2 46 -16 M645 635q32 10 64 14 M775 607q35 -15 70 -26 M909 748q27 7 54 29 M968 633q23 9 45 7 M325 565q34 -11 68 -9 M983 678q25 2 49 -11 M256 767q20 -21 40 -27 M537 741q24 22 48 30 M635 708q14 10 28 15 M964 785q42 8 85 3 M952 672q38 5 76 12 M319 577q17 2 35 -3 M933 571q16 13 32 18 M762 692q27 1 53 -10 M867 637q31 19 61 25 M582 632q43 11 85 12 M284 672q29 -12 59 -21 M466 723q15 7 30 13 M321 616q30 -22 60 -32 M371 647q17 -8 34 -2 M335 586q31 11 62 11 M369 697q19 -15 37 -24 M1048 750q38 -11 77 -27 M767 700q34 6 67 4 M389 562q17 8 33 3 M1056 789q16 8 33 21 M146 640q25 1 50 -12 M609 665q19 5 38 21 M662 748q24 3 49 15 M508 732q24 -8 47 -20 M259 727q23 -5 45 -0 M765 776q36 5 72 17 M862 779q32 5 64 13 M698 785q22 -9 45 -17 M466 726q28 -15 56 -38 M787 643q35 5 71 -3 M861 793q18 1 35 5 M780 671q25 11 50 33 M594 751q33 5 65 25 M215 595q20 1 41 16 M377 666q40 10 80 22 M1074 780q15 13 30 19 M782 736q23 -12 46 -11 M967 794q18 -1 35 5 M1139 729q21 -6 42 -22 M411 688q23 -3 45 -20 M856 752q19 -7 37 1 M517 679q33 -27 66 -43 M949 731q25 -7 51 -1 M809 788q18 -6 36 -14 M964 687q30 -13 60 -36 M752 728q16 -5 31 -17 M573 627q18 -12 35 -20 M1137 705q38 -20 77 -37 M521 760q33 -2 65 9 M1139 576q25 -14 49 -27 M374 722q21 -21 43 -29 M272 610q26 -20 53 -31 M889 571q30 -15 61 -29 M238 613q28 -1 57 3 M1109 627q24 -13 48 -17 M524 595q21 -7 41 -4 M598 752q29 7 58 6 M568 728q18 3 35 -2 M444 628q21 9 42 4 M389 609q19 5 38 16 M1068 575q20 -5 40 -9 M1012 757q34 -15 68 -45 M492 651q15 3 30 -5 M1053 595q23 -15 45 -19 M258 654q21 -14 41 -13 M886 731q22 6 43 28 M804 599q16 1 33 2 M1042 800q38 -20 75 -24 M357 789q37 8 75 22 M164 784q23 7 45 15 M650 677q39 18 78 33 M1031 586q25 2 50 -11 M1152 753q25 -11 51 -30 M947 616q18 -3 36 -3 M272 638q30 11 61 18 M1176 606q33 -25 66 -36 M992 770q17 1 34 17 M512 746q36 5 73 6 M467 752q33 27 66 39 M736 723q18 -18 36 -23 M956 725q25 -7 50 -4 M238 728q36 -9 72 -3 M800 770q21 1 41 -5 M661 736q39 16 79 42 M1159 731q33 -16 65 -35 M1082 637q20 -11 39 -21 M492 787q34 3 68 -6 M191 719q33 -0 67 -0 M569 776q16 -10 32 -11 M469 626q27 -11 54 -14 M240 684q36 -10 72 -14 M511 702q18 -5 35 -8 M779 661q16 -5 32 2 M424 594q32 -4 64 -21 M218 702q39 12 79 27 M1054 761q23 -11 46 -7 M1125 707q33 0 67 -13 M484 600q33 4 67 13 M355 566q23 13 46 25 M975 588q24 12 48 18 M903 696q29 -16 59 -37 M1169 638q19 12 39 26 M868 666q33 -1 67 -9 M444 599q32 -11 63 -34 M670 797q38 4 75 15 M356 673q16 8 31 1 M261 571q25 4 51 -2 M221 572q36 17 73 48 M283 592q35 -17 69 -45 M818 791q39 20 78 34 M907 784q35 18 71 45 M962 723q28 -4 55 5 M608 766q36 -8 73 -2 M930 598q33 23 65 31 M1119 652q34 -19 67 -45 M457 597q33 10 65 24 M1091 570q23 -7 47 -6 M911 798q41 -2 82 3 M995 675q32 9 64 29 M304 548q34 18 67 27 M1029 737q18 -11 36 -16 M791 582q40 -19 80 -28 M1128 571q36 -4 72 4 M604 647q20 12 40 18 M896 787q24 4 49 5 M208 758q28 18 56 21 M310 600q33 -14 66 -43 M535 641q37 21 73 34 M915 633q37 14 75 14 M631 650q29 -1 57 4 M560 675q39 13 78 17 M284 611q43 -12 86 -12 M1148 722q25 8 50 15 M1135 670q33 5 67 15 M326 688q27 2 54 12 M356 636q19 12 39 24 M610 791q35 16 70 32 M272 637q17 -1 35 -4 M641 794q29 -7 57 -24 M850 674q27 1 55 -0 M848 694q16 4 33 -0 M749 660q32 16 64 40 M786 672q18 10 35 10 M537 692q21 9 42 19 M625 624q32 4 63 11 M1122 655q25 7 50 15 M421 780q19 -11 38 -21 M1091 762q39 5 78 10 M444 583q26 10 52 22 M1166 748q31 5 62 7 M1088 757q18 7 36 19 M516 734q27 6 54 13 M799 779q42 1 83 -2 M887 713q18 4 36 0 M817 583q23 -4 46 -14 M731 764q34 2 67 12 M548 651q32 -16 65 -24 M1102 769q15 13 30 16 M276 700q24 -11 47 -19 M701 680q30 -0 60 8 M893 724q40 -4 80 -3 M258 561q28 10 56 12 M1143 615q30 -9 59 -2 M301 605q34 -3 67 -11 M278 778q28 7 56 5 M1118 568q31 -18 62 -36 M480 787q26 19 52 22 M387 796q22 -10 44 -27 M519 677q26 -6 51 -12 M630 588q30 2 61 6 M913 658q18 17 37 22 M457 648q26 -15 51 -19 M456 682q30 -13 60 -29 M279 681q34 8 67 30 M258 659q35 -12 69 -11 M657 766q17 -5 34 -5 M1015 669q39 14 78 25 M880 674q16 3 33 17 M1072 601q33 -20 65 -40 M456 671q26 3 53 3 M933 711q22 -4 44 -17 M481 650q29 2 57 19 M413 617q25 -19 51 -34 M179 694q32 -12 65 -9 M252 602q36 13 71 21 M1063 582q22 1 44 4 M966 620q42 4 83 13 M740 595q28 24 55 32 M485 620q21 5 43 14 M281 723q36 -13 72 -41 M769 769q32 2 63 0 M732 777q32 10 63 19 M1063 740q29 -4 59 -14 M1163 706q17 2 34 1 M766 614q42 -6 84 -2 M411 771q31 3 63 3 M1125 686q31 -4 61 -10 M422 656q20 -9 40 -22 M169 713q16 11 32 17 M424 683q23 9 46 13 M199 769q34 -12 68 -20 M517 672q23 -1 46 2 M1024 607q32 -3 64 5 M642 765q42 -3 85 -9 M1153 691q29 8 58 20 M682 711q23 5 45 -7 M893 754q31 16 63 40 M252 624q38 -25 76 -39 M973 578q20 3 41 12 M171 678q19 8 38 17 M154 643q14 1 27 14 M1120 609q33 10 66 21 M261 604q33 -14 66 -32 M1114 646q19 6 39 7 M965 635q37 20 74 30 M711 656q16 11 33 18 M1133 795q32 -18 64 -30 M630 663q20 -14 39 -17 M771 734q37 -5 74 -9 M457 710q26 13 53 19 M181 596q15 1 31 -3 M1169 565q39 -3 79 -14 M778 633q14 -10 28 -13 M892 798q21 10 43 14 M679 612q24 17 48 26 M583 776q27 10 53 21 M506 727q34 -13 68 -10 M236 761q35 10 71 18 M840 765q26 5 52 16 M664 740q27 -13 53 -26 M927 583q27 19 53 23 M1042 631q25 5 50 12 M441 580q25 5 49 25 M890 721q31 22 63 34 M291 759q16 2 31 1 M1100 702q19 -10 38 -22 M717 661q28 -14 56 -33 M1007 615q19 -15 38 -16 M1048 645q25 -10 49 -8 M1090 788q40 15 79 17 M1125 584q37 1 73 -13 M828 606q39 -18 77 -31 M435 620q36 5 72 24 M313 595q26 -1 51 -11 M468 616q25 11 50 29 M589 797q21 -10 42 -17 M945 728q29 11 58 16 M1131 733q39 -5 78 4 M631 787q24 17 49 29 M679 686q29 7 58 25 M330 724q31 3 61 -7 M1090 797q37 10 73 6 M475 626q17 -0 35 -5 M278 787q30 -9 60 -20 M519 666q19 -1 39 12 M797 789q39 1 79 4 M862 636q17 -6 35 -2 M454 600q32 2 65 17 M274 586q22 -15 44 -19 M516 665q36 -14 71 -29 M183 666q43 7 85 7 M802 671q30 1 59 10 M1071 794q41 13 82 32 M976 590q19 9 38 17 M162 734q18 -12 37 -10 M338 755q22 10 43 16 M727 718q34 -15 69 -25 M314 604q35 -14 70 -31 M259 691q20 -11 40 -7 M605 670q15 2 31 -9 M788 580q18 -12 37 -17 M822 616q24 -7 47 -13 M300 703q23 10 46 9 M1036 680q15 -5 31 -5" fill="none" stroke="#5e2626" stroke-width="7" opacity="0.65"/>
</g>
</g>
<g transform="translate(840,72) scale(0.08618)">
<rect x="72" y="55" width="1186" height="965" fill="#0c0b58"/>
<g fill="none" stroke="#ececf4" stroke-width="13">
<path d="M190,572 C110,500 115,360 220,318 C330,270 470,330 470,440 C470,530 410,585 345,595"/>
<path d="M240,410 L280,410 C285,330 330,288 385,288 C470,288 532,340 532,410"/>
<path d="M270,410 L270,880"/>
<path d="M345,595 C370,690 430,800 505,880"/>
<path d="M480,205 L565,205 L565,880"/>
<path d="M600,410 C600,335 655,290 732,290 C810,290 865,335 865,405 C865,470 800,520 615,690 L870,690"/>
<path d="M1180,205 L905,205 L905,410"/>
<path d="M905,410 C915,330 975,290 1045,290 C1120,290 1175,340 1180,405 L1205,410"/>
<path d="M920,470 C940,540 990,575 1045,575 C1120,575 1175,520 1180,455"/>
<path d="M610,740 L750,740 L610,880 L760,880"/>
<path d="M790,740 L935,740 L790,880 L940,880"/>
<circle cx="1010" cy="810" r="72"/>
<path d="M1120,740 L1120,880 L1165,880"/>
<path d="M1178,740 L1178,880"/>
</g>
<text x="252" y="182" font-size="90" fill="#e8e8f2" textLength="930" lengthAdjust="spacingAndGlyphs">ISTITUTO ORTOPEDICO</text>
<text x="885" y="695" font-size="62" fill="#e8e8f2" textLength="298" lengthAdjust="spacingAndGlyphs">1896-2021</text>
<text x="232" y="972" font-size="84" fill="#e8e8f2" textLength="650" lengthAdjust="spacingAndGlyphs">40 ANNI DI IRCCS</text>
</g>
<text x="259.5" y="213.9" font-size="37.2" font-weight="bold" fill="#5b87d0" textLength="816.3" lengthAdjust="spacingAndGlyphs" stroke="#5b87d0" stroke-width="0.7">METASTATIC OSTEOSARCOMA AT DIAGNOSIS:</text>
<text x="76.1" y="255.8" font-size="37.2" font-weight="bold" fill="#5b87d0" textLength="1194.7" lengthAdjust="spacingAndGlyphs" stroke="#5b87d0" stroke-width="0.7">ANALYSIS OF 92 CASES FROM A SINGLE INSTITUTION (2000-2018)</text>
<text x="68.8" y="316.0" font-size="27.5" fill="#231f20" textLength="1208.9" lengthAdjust="spacingAndGlyphs">Longhi A<tspan font-size="16" dy="-9">o</tspan><tspan dy="9">, Palmerini E</tspan><tspan font-size="16" dy="-9">o</tspan><tspan dy="9">, Broll V</tspan><tspan font-size="16" dy="-9">o</tspan><tspan dy="9">, Righi A*, Carella A</tspan><tspan font-size="16" dy="-9">o</tspan><tspan dy="9">, Pierini M</tspan><tspan font-size="16" dy="-9">o</tspan><tspan dy="9">, Ferrari C *, Cesari M</tspan><tspan font-size="16" dy="-9">o</tspan><tspan dy="9">, Hakim R</tspan><tspan font-size="16" dy="-9">o</tspan><tspan dy="9">, Paioli P</tspan><tspan font-size="16" dy="-9">o</tspan><tspan dy="9">,</tspan></text>
<text x="519.0" y="346.7" font-size="27.5" fill="#231f20" textLength="301.9" lengthAdjust="spacingAndGlyphs">Donati DM^ , Ibrahim To<tspan font-size="16" dy="-9">o</tspan><tspan dy="9">,</tspan></text>
<text x="334.8" y="378.5" font-size="20.2" font-style="italic" fill="#231f20" textLength="670.2" lengthAdjust="spacingAndGlyphs"><tspan font-size="12" dy="-7">o</tspan><tspan dy="7">Osteoncology, bone and soft tissue sarcoma and innovative therapy Division,</tspan></text>
<text x="490.0" y="413.6" font-size="20.2" font-style="italic" fill="#231f20" textLength="366.1" lengthAdjust="spacingAndGlyphs">*Pathology Servivce, ^Orthopedic Surgery</text>
<text x="450.8" y="448.7" font-size="20.2" font-style="italic" fill="#231f20" textLength="415.1" lengthAdjust="spacingAndGlyphs">Istituto Ortopedico Rizzoli IRCCS, Bologna, Italy</text>
<text x="29.2" y="503.0" font-size="27" font-weight="bold" fill="#5b87d0" textLength="143.6" lengthAdjust="spacingAndGlyphs">Backgound</text>
<text x="998.3" y="1906.9" font-size="27" font-weight="bold" fill="#5b87d0" textLength="156.3" lengthAdjust="spacingAndGlyphs">Conclusions</text>
<text x="362.3" y="497.3" font-size="20" font-weight="bold" fill="#5b87d0" textLength="529.1" lengthAdjust="spacingAndGlyphs">Table: characteristics of the studies of Bacci and Longhi</text>
<rect x="359.0" y="508.3" width="589.3" height="22.0" fill="#4f7bc7"/>
<rect x="359.0" y="530.3" width="589.3" height="21.8" fill="#e9ecf5"/>
<rect x="359.0" y="552.1" width="589.3" height="29.2" fill="#fff"/>
<rect x="359.0" y="581.3" width="589.3" height="22.1" fill="#e9ecf5"/>
<rect x="359.0" y="603.4" width="589.3" height="60.9" fill="#fff"/>
<rect x="359.0" y="664.3" width="589.3" height="21.2" fill="#e9ecf5"/>
<rect x="359.0" y="685.5" width="589.3" height="30.8" fill="#fff"/>
<rect x="359.0" y="716.3" width="589.3" height="21.9" fill="#e9ecf5"/>
<rect x="359.0" y="738.2" width="589.3" height="22.1" fill="#fff"/>
<rect x="359.0" y="760.3" width="589.3" height="21.9" fill="#e9ecf5"/>
<line x1="539.40" y1="508.30" x2="539.40" y2="530.30" stroke="#7b9bd6" stroke-width="1"/>
<line x1="539.40" y1="530.30" x2="539.40" y2="782.20" stroke="#f4f6fb" stroke-width="1"/>
<line x1="774.00" y1="508.30" x2="774.00" y2="530.30" stroke="#7b9bd6" stroke-width="1"/>
<line x1="774.00" y1="530.30" x2="774.00" y2="782.20" stroke="#f4f6fb" stroke-width="1"/>
<line x1="359.00" y1="530.30" x2="948.30" y2="530.30" stroke="#5a86cf" stroke-width="1.3"/>
<line x1="359.00" y1="552.10" x2="948.30" y2="552.10" stroke="#5a86cf" stroke-width="1.3"/>
<line x1="359.00" y1="581.30" x2="948.30" y2="581.30" stroke="#5a86cf" stroke-width="1.3"/>
<line x1="359.00" y1="603.40" x2="948.30" y2="603.40" stroke="#5a86cf" stroke-width="1.3"/>
<line x1="359.00" y1="664.30" x2="948.30" y2="664.30" stroke="#5a86cf" stroke-width="1.3"/>
<line x1="359.00" y1="685.50" x2="948.30" y2="685.50" stroke="#5a86cf" stroke-width="1.3"/>
<line x1="359.00" y1="716.30" x2="948.30" y2="716.30" stroke="#5a86cf" stroke-width="1.3"/>
<line x1="359.00" y1="738.20" x2="948.30" y2="738.20" stroke="#5a86cf" stroke-width="1.3"/>
<line x1="359.00" y1="760.30" x2="948.30" y2="760.30" stroke="#5a86cf" stroke-width="1.3"/>
<line x1="359.00" y1="782.20" x2="948.30" y2="782.20" stroke="#5a86cf" stroke-width="1.3"/>
<line x1="359.00" y1="508.30" x2="948.30" y2="508.30" stroke="#5a86cf" stroke-width="1.3"/>
<line x1="359.00" y1="508.30" x2="359.00" y2="782.20" stroke="#5a86cf" stroke-width="1.3"/>
<line x1="948.30" y1="508.30" x2="948.30" y2="782.20" stroke="#5a86cf" stroke-width="1.3"/>
<text x="361.8" y="523.6" font-size="13.4" font-weight="bold" fill="#fff" textLength="89.0" lengthAdjust="spacingAndGlyphs">Author/period</text>
<text x="656.7" y="523.6" font-size="13.4" font-weight="bold" text-anchor="middle" fill="#fff">Bacci 7/1995-5/2000</text>
<text x="861.1" y="523.6" font-size="13.4" font-weight="bold" text-anchor="middle" fill="#fff">Longhi 8/2000-10/2018</text>
<text x="362.0" y="547.2" font-size="14.5" font-weight="bold" fill="#1d1d1d">N patients</text>
<text x="656.7" y="547.2" font-size="14.5" text-anchor="middle" fill="#1d1d1d">57</text>
<text x="861.1" y="547.2" font-size="14.5" text-anchor="middle" fill="#1d1d1d">92</text>
<text x="362.0" y="569.8" font-size="14.5" font-weight="bold" fill="#1d1d1d">Mean FU time</text>
<text x="656.7" y="569.8" font-size="14.5" text-anchor="middle" fill="#1d1d1d">4 yrs (range 2-7)</text>
<text x="861.1" y="569.8" font-size="14.5" text-anchor="middle" fill="#1d1d1d">3,3 yrs  (range 0.4-17.2)</text>
<text x="362.0" y="598.7" font-size="14.5" font-weight="bold" fill="#1d1d1d">Age  median</text>
<text x="656.7" y="598.7" font-size="14.5" text-anchor="middle" fill="#1d1d1d">18(6-39)</text>
<text x="861.1" y="598.7" font-size="14.5" text-anchor="middle" fill="#1d1d1d">16.5(6-73)</text>
<text x="362.0" y="618.7" font-size="14.5" font-weight="bold" fill="#1d1d1d">Primary Tumor</text>
<text x="362.0" y="638.5" font-size="14.5" font-weight="bold" fill="#1d1d1d">-Extremities</text>
<text x="656.7" y="638.5" font-size="14.5" text-anchor="middle" fill="#1d1d1d">57 (100%)</text>
<text x="861.1" y="638.5" font-size="14.5" text-anchor="middle" fill="#1d1d1d">77 (84%)</text>
<text x="362.0" y="659.4" font-size="14.5" font-weight="bold" fill="#1d1d1d">-Axial</text>
<text x="656.7" y="659.4" font-size="14.5" text-anchor="middle" fill="#1d1d1d">0</text>
<text x="861.1" y="659.4" font-size="14.5" text-anchor="middle" fill="#1d1d1d">15 (16%)</text>
<text x="362.0" y="681.6" font-size="14.5" font-weight="bold" fill="#1d1d1d">Primary tumor resection</text>
<text x="656.7" y="681.6" font-size="14.5" text-anchor="middle" fill="#1d1d1d">54 (94%</text>
<text x="861.1" y="681.6" font-size="14.5" text-anchor="middle" fill="#1d1d1d">75 (81%)</text>
<text x="362.0" y="702.5" font-size="14.5" font-weight="bold" fill="#1d1d1d">Lung Mets only</text>
<text x="656.7" y="702.5" font-size="14.5" text-anchor="middle" fill="#1d1d1d">43 (82%)</text>
<text x="861.1" y="702.5" font-size="14.5" text-anchor="middle" fill="#1d1d1d">66 (72%)</text>
<text x="362.0" y="733.5" font-size="14.5" font-weight="bold" fill="#1d1d1d">% Complete Remission</text>
<text x="656.7" y="733.5" font-size="14.5" text-anchor="middle" fill="#1d1d1d">36/57 (63%)</text>
<text x="861.1" y="733.5" font-size="14.5" text-anchor="middle" fill="#1d1d1d">26/92(28%)</text>
<text x="362.0" y="755.0" font-size="14.5" font-weight="bold" fill="#1d1d1d">2 yrs OS</text>
<text x="656.7" y="755.0" font-size="14.5" text-anchor="middle" fill="#1d1d1d">55%</text>
<text x="861.1" y="755.0" font-size="14.5" text-anchor="middle" fill="#1d1d1d">66%</text>
<text x="362.0" y="777.3" font-size="14.5" font-weight="bold" fill="#1d1d1d">5 yrs OS</text>
<text x="656.7" y="777.3" font-size="14.5" text-anchor="middle" fill="#1d1d1d">18%</text>
<text x="861.1" y="777.3" font-size="14.5" text-anchor="middle" fill="#1d1d1d">26%</text>
<text x="370.7" y="1819.5" font-size="20" font-weight="bold" fill="#5b87d0" textLength="560.5" lengthAdjust="spacingAndGlyphs">Table: Univariate and multivariate p-values for OS analysis</text>
<rect x="367.1" y="1840.5" width="590.2" height="28.8" fill="#4f7bc7"/>
<rect x="367.1" y="1869.3" width="590.2" height="20.2" fill="#e9ecf5"/>
<rect x="367.1" y="1889.5" width="590.2" height="20.6" fill="#fff"/>
<rect x="367.1" y="1910.1" width="590.2" height="21.1" fill="#e9ecf5"/>
<rect x="367.1" y="1931.2" width="590.2" height="20.6" fill="#fff"/>
<rect x="367.1" y="1951.8" width="590.2" height="20.8" fill="#e9ecf5"/>
<rect x="367.1" y="1972.6" width="590.2" height="25.9" fill="#fff"/>
<rect x="367.1" y="1998.5" width="590.2" height="64.3" fill="#e9ecf5"/>
<line x1="643.20" y1="1840.50" x2="643.20" y2="1869.30" stroke="#7b9bd6" stroke-width="1"/>
<line x1="643.20" y1="1869.30" x2="643.20" y2="2062.80" stroke="#f4f6fb" stroke-width="1"/>
<line x1="798.70" y1="1840.50" x2="798.70" y2="1869.30" stroke="#7b9bd6" stroke-width="1"/>
<line x1="798.70" y1="1869.30" x2="798.70" y2="2062.80" stroke="#f4f6fb" stroke-width="1"/>
<line x1="367.10" y1="1869.30" x2="957.30" y2="1869.30" stroke="#5a86cf" stroke-width="1.3"/>
<line x1="367.10" y1="1889.50" x2="957.30" y2="1889.50" stroke="#5a86cf" stroke-width="1.3"/>
<line x1="367.10" y1="1910.10" x2="957.30" y2="1910.10" stroke="#5a86cf" stroke-width="1.3"/>
<line x1="367.10" y1="1931.20" x2="957.30" y2="1931.20" stroke="#5a86cf" stroke-width="1.3"/>
<line x1="367.10" y1="1951.80" x2="957.30" y2="1951.80" stroke="#5a86cf" stroke-width="1.3"/>
<line x1="367.10" y1="1972.60" x2="957.30" y2="1972.60" stroke="#5a86cf" stroke-width="1.3"/>
<line x1="367.10" y1="1998.50" x2="957.30" y2="1998.50" stroke="#5a86cf" stroke-width="1.3"/>
<line x1="367.10" y1="2062.80" x2="957.30" y2="2062.80" stroke="#5a86cf" stroke-width="1.3"/>
<line x1="367.10" y1="1840.50" x2="957.30" y2="1840.50" stroke="#5a86cf" stroke-width="1.3"/>
<line x1="367.10" y1="1840.50" x2="367.10" y2="2062.80" stroke="#5a86cf" stroke-width="1.3"/>
<line x1="957.30" y1="1840.50" x2="957.30" y2="2062.80" stroke="#5a86cf" stroke-width="1.3"/>
<text x="721.0" y="1857.0" font-size="14.5" font-weight="bold" text-anchor="middle" fill="#fff">Univariate p-value</text>
<text x="878.0" y="1857.0" font-size="14.5" font-weight="bold" text-anchor="middle" fill="#fff">Multivariate p-value</text>
<text x="370.0" y="1884.3" font-size="14.5" font-weight="bold" fill="#1d1d1d" style="white-space:pre">Axial vs limb Primary Tumor</text>
<text x="721.0" y="1884.3" font-size="14.5" text-anchor="middle" fill="#1d1d1d">P&lt;0.001</text>
<text x="878.0" y="1884.3" font-size="14.5" text-anchor="middle" fill="#1d1d1d">0.09</text>
<text x="370.0" y="1905.6" font-size="14.5" font-weight="bold" fill="#1d1d1d" style="white-space:pre">Complete Remission</text>
<text x="721.0" y="1905.6" font-size="14.5" text-anchor="middle" fill="#1d1d1d">P&lt;0.001</text>
<text x="878.0" y="1905.6" font-size="14.5" text-anchor="middle" fill="#1d1d1d">&lt;0.001</text>
<text x="370.0" y="1926.0" font-size="14.5" font-weight="bold" fill="#1d1d1d" style="white-space:pre">Lung M vs other M</text>
<text x="721.0" y="1926.0" font-size="14.5" text-anchor="middle" fill="#1d1d1d">P&lt;0.001</text>
<text x="878.0" y="1926.0" font-size="14.5" text-anchor="middle" fill="#1d1d1d">0.011</text>
<text x="370.0" y="1947.3" font-size="14.5" font-weight="bold" fill="#1d1d1d" style="white-space:pre">N° of  Lung Mets</text>
<text x="721.0" y="1947.3" font-size="14.5" text-anchor="middle" fill="#1d1d1d">P=0.007</text>
<text x="878.0" y="1947.3" font-size="14.5" text-anchor="middle" fill="#1d1d1d">0.010</text>
<text x="370.0" y="1966.7" font-size="14.5" font-weight="bold" fill="#1d1d1d" style="white-space:pre">PGP Pos vs Neg</text>
<text x="721.0" y="1966.7" font-size="14.5" text-anchor="middle" fill="#1d1d1d">P=0.038</text>
<text x="370.0" y="1988.5" font-size="14.5" font-weight="bold" fill="#1d1d1d" style="white-space:pre">Age (0-14, 15-40, &gt;40 years</text>
<text x="721.0" y="1988.5" font-size="14.5" text-anchor="middle" fill="#1d1d1d">P&lt;0.001</text>
<text x="878.0" y="1988.5" font-size="14.5" text-anchor="middle" fill="#1d1d1d">&lt;0.001</text>
<text x="370.0" y="2015.2" font-size="14.5" font-weight="bold" fill="#1d1d1d" style="white-space:pre">Hystotype (Osteoblastic,</text>
<text x="721.0" y="2015.2" font-size="14.5" text-anchor="middle" fill="#1d1d1d">P=0.0822</text>
<text x="370.0" y="2037.0" font-size="14.5" font-weight="bold" fill="#1d1d1d" style="white-space:pre">chondroblastic, fibroblastic,</text>
<text x="370.0" y="2058.3" font-size="14.5" font-weight="bold" fill="#1d1d1d" style="white-space:pre">teleangectatic)</text>
<text x="604.8" y="841.7" font-size="26.6" font-weight="bold" fill="#5b87d0" textLength="117.9" lengthAdjust="spacingAndGlyphs">FIGURES</text>
<text x="370.4" y="882.8" font-size="20.5" font-weight="bold" fill="#5b87d0" textLength="161.0" lengthAdjust="spacingAndGlyphs">OS whole cohort</text>
<text x="711.8" y="882.2" font-size="20.5" font-weight="bold" fill="#5b87d0" textLength="95.3" lengthAdjust="spacingAndGlyphs">OS by site</text>
<text x="382.9" y="1197.9" font-size="20.5" font-weight="bold" fill="#5b87d0" textLength="145.2" lengthAdjust="spacingAndGlyphs">OS by MTS site</text>
<text x="711.3" y="1197.9" font-size="20.5" font-weight="bold" fill="#5b87d0" textLength="87.2" lengthAdjust="spacingAndGlyphs">OS by CR</text>
<text x="382.9" y="1507.1" font-size="20.5" font-weight="bold" fill="#5b87d0" textLength="96.1" lengthAdjust="spacingAndGlyphs">OS by age</text>
<text x="715.0" y="1507.1" font-size="20.5" font-weight="bold" fill="#5b87d0" textLength="152.9" lengthAdjust="spacingAndGlyphs">OS by Histology</text>
<g transform="translate(360,890) scale(0.22287)">
<line x1="128" y1="65" x2="1295" y2="65" stroke="#e3eeee" stroke-width="5"/>
<line x1="128" y1="262" x2="1295" y2="262" stroke="#e3eeee" stroke-width="5"/>
<line x1="128" y1="460" x2="1295" y2="460" stroke="#e3eeee" stroke-width="5"/>
<line x1="128" y1="657" x2="1295" y2="657" stroke="#e3eeee" stroke-width="5"/>
<line x1="128" y1="853" x2="1295" y2="853" stroke="#e3eeee" stroke-width="5"/>
<path d="M150,65 L200,65 L200,70 L208,70 L208,78 L215,78 L215,92 L222,92 L222,118 L235,118 L235,135 L240,135 L240,165 L250,165 L250,175 L258,175 L258,192 L265,192 L265,210 L272,210 L272,228 L280,228 L280,245 L300,245 L300,260 L310,260 L310,270 L325,270 L325,282 L335,282 L335,295 L345,295 L345,305 L365,305 L365,318 L370,318 L370,328 L388,328 L388,338 L405,338 L405,350 L410,350 L410,365 L415,365 L415,385 L420,385 L420,405 L455,405 L455,415 L462,415 L462,428 L475,428 L475,438 L483,438 L483,465 L492,465 L492,472 L505,472 L505,488 L512,488 L512,508 L520,508 L520,522 L545,522 L545,535 L585,535 L585,552 L590,552 L590,585 L598,585 L598,598 L607,598 L607,625 L640,625 L640,640 L652,640 L652,648 L805,648 L805,660 L840,660 L840,680 L925,680 L925,692 L985,692 L985,706 L1118,706 L1118,725 L1128,725 L1128,742 L1210,742" fill="none" stroke="#111111" stroke-width="6" stroke-linejoin="miter"/>
<path d="M128,45 L128,875 L1295,875" fill="none" stroke="#111" stroke-width="5.5"/>
<line x1="108" y1="65" x2="128" y2="65" stroke="#111" stroke-width="5"/>
<line x1="108" y1="262" x2="128" y2="262" stroke="#111" stroke-width="5"/>
<line x1="108" y1="460" x2="128" y2="460" stroke="#111" stroke-width="5"/>
<line x1="108" y1="657" x2="128" y2="657" stroke="#111" stroke-width="5"/>
<line x1="108" y1="853" x2="128" y2="853" stroke="#111" stroke-width="5"/>
<line x1="150" y1="875" x2="150" y2="895" stroke="#111" stroke-width="5"/>
<line x1="373" y1="875" x2="373" y2="895" stroke="#111" stroke-width="5"/>
<line x1="597" y1="875" x2="597" y2="895" stroke="#111" stroke-width="5"/>
<line x1="820" y1="875" x2="820" y2="895" stroke="#111" stroke-width="5"/>
<line x1="1045" y1="875" x2="1045" y2="895" stroke="#111" stroke-width="5"/>
<line x1="1270" y1="875" x2="1270" y2="895" stroke="#111" stroke-width="5"/>
<text x="104" y="79" font-size="40" text-anchor="end" fill="#333" letter-spacing="-2">100</text>
<text x="104" y="276" font-size="40" text-anchor="end" fill="#333" letter-spacing="-2">75%</text>
<text x="104" y="474" font-size="40" text-anchor="end" fill="#333" letter-spacing="-2">50%</text>
<text x="104" y="671" font-size="40" text-anchor="end" fill="#333" letter-spacing="-2">25%</text>
<text x="104" y="867" font-size="40" text-anchor="end" fill="#333" letter-spacing="-2">0%</text>
<text x="150" y="933" font-size="40" text-anchor="middle" fill="#333">0</text>
<text x="373" y="933" font-size="40" text-anchor="middle" fill="#333">2</text>
<text x="597" y="933" font-size="40" text-anchor="middle" fill="#333">4</text>
<text x="820" y="933" font-size="40" text-anchor="middle" fill="#333">6</text>
<text x="1045" y="933" font-size="40" text-anchor="middle" fill="#333">8</text>
<text x="1270" y="933" font-size="40" text-anchor="middle" fill="#333">10</text>
<text x="715.0" y="967" font-size="40" text-anchor="middle" fill="#333" letter-spacing="-2">Years from diagnosis</text>
</g>
<g transform="translate(680,890) scale(0.22287)">
<line x1="150" y1="100" x2="1270" y2="100" stroke="#e3eeee" stroke-width="5"/>
<line x1="150" y1="290" x2="1270" y2="290" stroke="#e3eeee" stroke-width="5"/>
<line x1="150" y1="482" x2="1270" y2="482" stroke="#e3eeee" stroke-width="5"/>
<line x1="150" y1="670" x2="1270" y2="670" stroke="#e3eeee" stroke-width="5"/>
<line x1="150" y1="858" x2="1270" y2="858" stroke="#e3eeee" stroke-width="5"/>
<path d="M172,100 L233,100 L233,140 L238,140 L238,185 L242,185 L242,225 L258,225 L258,270 L266,270 L266,318 L280,318 L280,362 L298,362 L298,405 L325,405 L325,455 L352,455 L352,500 L415,500 L415,558 L423,558 L423,615 L432,615 L432,680 L463,680 L463,738 L510,738 L510,796 L595,796 L595,858" fill="none" stroke="#3a8fc8" stroke-width="6" stroke-linejoin="miter"/>
<path d="M172,100 L225,100 L225,115 L232,115 L232,125 L240,125 L240,132 L252,132 L252,155 L258,155 L258,178 L270,178 L270,190 L275,190 L275,205 L282,205 L282,215 L288,215 L288,230 L292,230 L292,243 L318,243 L318,255 L335,255 L335,268 L343,268 L343,280 L358,280 L358,292 L368,292 L368,303 L380,303 L380,318 L400,318 L400,330 L422,330 L422,345 L428,345 L428,370 L468,370 L468,378 L480,378 L480,395 L490,395 L490,420 L495,420 L495,438 L515,438 L515,450 L522,450 L522,465 L527,465 L527,483 L550,483 L550,495 L588,495 L588,525 L595,525 L595,540 L602,540 L602,553 L612,553 L612,585 L648,585 L648,600 L653,600 L653,617 L805,617 L805,635 L832,635 L832,648 L918,648 L918,667 L975,667 L975,685 L1102,685 L1102,707 L1115,707 L1115,730 L1190,730" fill="none" stroke="#c8213f" stroke-width="6" stroke-linejoin="miter"/>
<path d="M150,85 L150,880 L1270,880" fill="none" stroke="#111" stroke-width="5.5"/>
<line x1="130" y1="100" x2="150" y2="100" stroke="#111" stroke-width="5"/>
<line x1="130" y1="290" x2="150" y2="290" stroke="#111" stroke-width="5"/>
<line x1="130" y1="482" x2="150" y2="482" stroke="#111" stroke-width="5"/>
<line x1="130" y1="670" x2="150" y2="670" stroke="#111" stroke-width="5"/>
<line x1="130" y1="858" x2="150" y2="858" stroke="#111" stroke-width="5"/>
<line x1="172" y1="880" x2="172" y2="900" stroke="#111" stroke-width="5"/>
<line x1="388" y1="880" x2="388" y2="900" stroke="#111" stroke-width="5"/>
<line x1="603" y1="880" x2="603" y2="900" stroke="#111" stroke-width="5"/>
<line x1="818" y1="880" x2="818" y2="900" stroke="#111" stroke-width="5"/>
<line x1="1033" y1="880" x2="1033" y2="900" stroke="#111" stroke-width="5"/>
<line x1="1250" y1="880" x2="1250" y2="900" stroke="#111" stroke-width="5"/>
<text x="126" y="114" font-size="40" text-anchor="end" fill="#333" letter-spacing="-2">100</text>
<text x="126" y="304" font-size="40" text-anchor="end" fill="#333" letter-spacing="-2">75%</text>
<text x="126" y="496" font-size="40" text-anchor="end" fill="#333" letter-spacing="-2">50%</text>
<text x="126" y="684" font-size="40" text-anchor="end" fill="#333" letter-spacing="-2">25%</text>
<text x="126" y="872" font-size="40" text-anchor="end" fill="#333" letter-spacing="-2">0%</text>
<text x="172" y="938" font-size="40" text-anchor="middle" fill="#333">0</text>
<text x="388" y="938" font-size="40" text-anchor="middle" fill="#333">2</text>
<text x="603" y="938" font-size="40" text-anchor="middle" fill="#333">4</text>
<text x="818" y="938" font-size="40" text-anchor="middle" fill="#333">6</text>
<text x="1033" y="938" font-size="40" text-anchor="middle" fill="#333">8</text>
<text x="1250" y="938" font-size="40" text-anchor="middle" fill="#333">10</text>
<text x="716.0" y="972" font-size="40" text-anchor="middle" fill="#333" letter-spacing="-2">Years from diagnosis</text>
<rect x="925" y="90" width="333" height="153" fill="#fff" stroke="#111" stroke-width="6"/>
<text x="1092" y="135" font-size="38" text-anchor="middle" fill="#3b4a80">Site</text>
<line x1="945" y1="168" x2="1065" y2="168" stroke="#3a8fc8" stroke-width="6"/>
<text x="1085" y="182" font-size="38" fill="#333" letter-spacing="-2.5">axial/other</text>
<line x1="945" y1="213" x2="1065" y2="213" stroke="#c8213f" stroke-width="6"/>
<text x="1085" y="227" font-size="38" fill="#333" letter-spacing="-2.5">limb</text>
</g>
<g transform="translate(360,1200) scale(0.22287)">
<line x1="133" y1="97" x2="1253" y2="97" stroke="#e3eeee" stroke-width="5"/>
<line x1="133" y1="285" x2="1253" y2="285" stroke="#e3eeee" stroke-width="5"/>
<line x1="133" y1="477" x2="1253" y2="477" stroke="#e3eeee" stroke-width="5"/>
<line x1="133" y1="665" x2="1253" y2="665" stroke="#e3eeee" stroke-width="5"/>
<line x1="133" y1="853" x2="1253" y2="853" stroke="#e3eeee" stroke-width="5"/>
<path d="M153,97 L210,97 L210,110 L215,110 L215,128 L225,128 L225,148 L235,148 L235,165 L240,165 L240,185 L248,185 L248,195 L268,195 L268,208 L300,208 L300,220 L322,220 L322,230 L332,230 L332,245 L342,245 L342,262 L360,262 L360,275 L365,275 L365,290 L382,290 L382,307 L405,307 L405,320 L410,320 L410,335 L415,335 L415,365 L450,365 L450,378 L473,378 L473,408 L490,408 L490,425 L498,425 L498,440 L505,440 L505,460 L510,460 L510,478 L570,478 L570,500 L575,500 L575,530 L592,530 L592,567 L628,567 L628,585 L635,585 L635,603 L788,603 L788,622 L815,622 L815,643 L900,643 L900,662 L958,662 L958,685 L1098,685 L1098,715 L1170,715" fill="none" stroke="#3a8fc8" stroke-width="6" stroke-linejoin="miter"/>
<path d="M153,97 L208,97 L208,127 L222,127 L222,150 L230,150 L230,170 L235,170 L235,185 L240,185 L240,212 L252,212 L252,245 L258,245 L258,272 L262,272 L262,335 L270,335 L270,365 L275,365 L275,400 L282,400 L282,428 L308,428 L308,455 L325,455 L325,487 L398,487 L398,520 L405,520 L405,558 L445,558 L445,598 L465,598 L465,635 L478,635 L478,670 L530,670 L530,707 L575,707 L575,740 L585,740 L585,782 L1082,782 L1082,818" fill="none" stroke="#c8213f" stroke-width="6" stroke-linejoin="miter"/>
<path d="M133,75 L133,877 L1253,877" fill="none" stroke="#111" stroke-width="5.5"/>
<line x1="113" y1="97" x2="133" y2="97" stroke="#111" stroke-width="5"/>
<line x1="113" y1="285" x2="133" y2="285" stroke="#111" stroke-width="5"/>
<line x1="113" y1="477" x2="133" y2="477" stroke="#111" stroke-width="5"/>
<line x1="113" y1="665" x2="133" y2="665" stroke="#111" stroke-width="5"/>
<line x1="113" y1="853" x2="133" y2="853" stroke="#111" stroke-width="5"/>
<line x1="153" y1="877" x2="153" y2="897" stroke="#111" stroke-width="5"/>
<line x1="370" y1="877" x2="370" y2="897" stroke="#111" stroke-width="5"/>
<line x1="585" y1="877" x2="585" y2="897" stroke="#111" stroke-width="5"/>
<line x1="802" y1="877" x2="802" y2="897" stroke="#111" stroke-width="5"/>
<line x1="1018" y1="877" x2="1018" y2="897" stroke="#111" stroke-width="5"/>
<line x1="1235" y1="877" x2="1235" y2="897" stroke="#111" stroke-width="5"/>
<text x="109" y="111" font-size="40" text-anchor="end" fill="#333" letter-spacing="-2">100</text>
<text x="109" y="299" font-size="40" text-anchor="end" fill="#333" letter-spacing="-2">75%</text>
<text x="109" y="491" font-size="40" text-anchor="end" fill="#333" letter-spacing="-2">50%</text>
<text x="109" y="679" font-size="40" text-anchor="end" fill="#333" letter-spacing="-2">25%</text>
<text x="109" y="867" font-size="40" text-anchor="end" fill="#333" letter-spacing="-2">0%</text>
<text x="153" y="935" font-size="40" text-anchor="middle" fill="#333">0</text>
<text x="370" y="935" font-size="40" text-anchor="middle" fill="#333">2</text>
<text x="585" y="935" font-size="40" text-anchor="middle" fill="#333">4</text>
<text x="802" y="935" font-size="40" text-anchor="middle" fill="#333">6</text>
<text x="1018" y="935" font-size="40" text-anchor="middle" fill="#333">8</text>
<text x="1235" y="935" font-size="40" text-anchor="middle" fill="#333">10</text>
<text x="699.0" y="969" font-size="40" text-anchor="middle" fill="#333" letter-spacing="-2">Years from diagnosis</text>
<rect x="925" y="85" width="317" height="110" fill="#fff" stroke="#111" stroke-width="6"/>
<line x1="940" y1="120" x2="1065" y2="120" stroke="#3a8fc8" stroke-width="6"/>
<text x="1085" y="134" font-size="38" fill="#333" letter-spacing="-2.5">Only lung</text>
<line x1="940" y1="163" x2="1065" y2="163" stroke="#c8213f" stroke-width="6"/>
<text x="1085" y="177" font-size="38" fill="#333" letter-spacing="-2.5">other</text>
</g>
<g transform="translate(680,1200) scale(0.22287)">
<line x1="160" y1="97" x2="1275" y2="97" stroke="#e3eeee" stroke-width="5"/>
<line x1="160" y1="285" x2="1275" y2="285" stroke="#e3eeee" stroke-width="5"/>
<line x1="160" y1="477" x2="1275" y2="477" stroke="#e3eeee" stroke-width="5"/>
<line x1="160" y1="665" x2="1275" y2="665" stroke="#e3eeee" stroke-width="5"/>
<line x1="160" y1="853" x2="1275" y2="853" stroke="#e3eeee" stroke-width="5"/>
<path d="M178,97 L188,97 L188,122 L195,122 L195,140 L200,140 L200,158 L205,158 L205,170 L210,170 L210,188 L218,188 L218,220 L222,220 L222,250 L228,250 L228,288 L240,288 L240,300 L248,300 L248,320 L252,320 L252,345 L258,345 L258,368 L262,368 L262,382 L280,382 L280,410 L293,410 L293,435 L300,435 L300,455 L317,455 L317,508 L342,508 L342,545 L358,545 L358,565 L375,565 L375,590 L380,590 L380,620 L385,620 L385,645 L392,645 L392,660 L423,660 L423,680 L432,680 L432,698 L478,698 L478,720 L483,720 L483,742 L488,742 L488,765 L572,765 L572,787 L733,787 L733,810 L846,810 L846,832 L850,832 L850,855" fill="none" stroke="#3a8fc8" stroke-width="6" stroke-linejoin="miter"/>
<path d="M178,97 L348,97 L348,127 L392,127 L392,158 L425,158 L425,190 L447,190 L447,253 L495,253 L495,290 L500,290 L500,320 L505,320 L505,352 L527,352 L527,387 L553,387 L553,420 L738,420 L738,455 L882,455 L882,500 L1030,500 L1030,550 L1178,550" fill="none" stroke="#c8213f" stroke-width="6" stroke-linejoin="miter"/>
<path d="M160,75 L160,877 L1275,877" fill="none" stroke="#111" stroke-width="5.5"/>
<line x1="140" y1="97" x2="160" y2="97" stroke="#111" stroke-width="5"/>
<line x1="140" y1="285" x2="160" y2="285" stroke="#111" stroke-width="5"/>
<line x1="140" y1="477" x2="160" y2="477" stroke="#111" stroke-width="5"/>
<line x1="140" y1="665" x2="160" y2="665" stroke="#111" stroke-width="5"/>
<line x1="140" y1="853" x2="160" y2="853" stroke="#111" stroke-width="5"/>
<line x1="178" y1="877" x2="178" y2="897" stroke="#111" stroke-width="5"/>
<line x1="395" y1="877" x2="395" y2="897" stroke="#111" stroke-width="5"/>
<line x1="610" y1="877" x2="610" y2="897" stroke="#111" stroke-width="5"/>
<line x1="826" y1="877" x2="826" y2="897" stroke="#111" stroke-width="5"/>
<line x1="1042" y1="877" x2="1042" y2="897" stroke="#111" stroke-width="5"/>
<line x1="1258" y1="877" x2="1258" y2="897" stroke="#111" stroke-width="5"/>
<text x="136" y="111" font-size="40" text-anchor="end" fill="#333" letter-spacing="-2">100</text>
<text x="136" y="299" font-size="40" text-anchor="end" fill="#333" letter-spacing="-2">75%</text>
<text x="136" y="491" font-size="40" text-anchor="end" fill="#333" letter-spacing="-2">50%</text>
<text x="136" y="679" font-size="40" text-anchor="end" fill="#333" letter-spacing="-2">25%</text>
<text x="136" y="867" font-size="40" text-anchor="end" fill="#333" letter-spacing="-2">0%</text>
<text x="178" y="935" font-size="40" text-anchor="middle" fill="#333">0</text>
<text x="395" y="935" font-size="40" text-anchor="middle" fill="#333">2</text>
<text x="610" y="935" font-size="40" text-anchor="middle" fill="#333">4</text>
<text x="826" y="935" font-size="40" text-anchor="middle" fill="#333">6</text>
<text x="1042" y="935" font-size="40" text-anchor="middle" fill="#333">8</text>
<text x="1258" y="935" font-size="40" text-anchor="middle" fill="#333">10</text>
<text x="723.0" y="969" font-size="40" text-anchor="middle" fill="#333" letter-spacing="-2">Years from end therapy</text>
<rect x="1023" y="87" width="245" height="166" fill="#fff" stroke="#111" stroke-width="6"/>
<text x="1145" y="143" font-size="46" text-anchor="middle" fill="#3b4a80">CR</text>
<line x1="1040" y1="177" x2="1165" y2="177" stroke="#3a8fc8" stroke-width="6"/>
<text x="1183" y="191" font-size="38" fill="#333" letter-spacing="-2.5">NO</text>
<line x1="1040" y1="222" x2="1165" y2="222" stroke="#c8213f" stroke-width="6"/>
<text x="1183" y="236" font-size="38" fill="#333" letter-spacing="-2.5">YES</text>
</g>
<g transform="translate(360,1510) scale(0.22287)">
<line x1="133" y1="92" x2="1253" y2="92" stroke="#e3eeee" stroke-width="5"/>
<line x1="133" y1="280" x2="1253" y2="280" stroke="#e3eeee" stroke-width="5"/>
<line x1="133" y1="468" x2="1253" y2="468" stroke="#e3eeee" stroke-width="5"/>
<line x1="133" y1="657" x2="1253" y2="657" stroke="#e3eeee" stroke-width="5"/>
<line x1="133" y1="850" x2="1253" y2="850" stroke="#e3eeee" stroke-width="5"/>
<path d="M153,92 L207,92 L207,118 L213,118 L213,147 L253,147 L253,165 L260,165 L260,190 L265,190 L265,207 L270,207 L270,225 L277,225 L277,253 L383,253 L383,285 L413,285 L413,312 L447,312 L447,345 L463,345 L463,375 L500,375 L500,400 L505,400 L505,433 L572,433 L572,465 L577,465 L577,560 L630,560 L630,590 L815,590 L815,625 L900,625 L900,657 L1083,657 L1083,718" fill="none" stroke="#3a8fc8" stroke-width="6" stroke-linejoin="miter"/>
<path d="M153,92 L220,92 L220,105 L235,105 L235,145 L243,145 L243,158 L252,158 L252,172 L262,172 L262,185 L270,185 L270,200 L280,200 L280,220 L300,220 L300,240 L325,240 L325,275 L342,275 L342,292 L357,292 L357,310 L365,310 L365,330 L405,330 L405,368 L410,368 L410,385 L452,385 L452,408 L473,408 L473,455 L477,455 L477,478 L490,478 L490,500 L510,500 L510,522 L532,522 L532,548 L583,548 L583,570 L593,570 L593,627 L638,627 L638,648 L788,648 L788,680 L958,680 L958,707 L1097,707 L1097,733 L1172,733" fill="none" stroke="#c8213f" stroke-width="6" stroke-linejoin="miter"/>
<path d="M153,92 L218,92 L218,120 L222,120 L222,155 L225,155 L225,218 L230,218 L230,280 L240,280 L240,423 L262,423 L262,495 L307,495 L307,563 L333,563 L333,633 L398,633 L398,742 L415,742 L415,850" fill="none" stroke="#f5c400" stroke-width="6" stroke-linejoin="miter"/>
<path d="M133,70 L133,865 L1253,865" fill="none" stroke="#111" stroke-width="5.5"/>
<line x1="113" y1="92" x2="133" y2="92" stroke="#111" stroke-width="5"/>
<line x1="113" y1="280" x2="133" y2="280" stroke="#111" stroke-width="5"/>
<line x1="113" y1="468" x2="133" y2="468" stroke="#111" stroke-width="5"/>
<line x1="113" y1="657" x2="133" y2="657" stroke="#111" stroke-width="5"/>
<line x1="113" y1="850" x2="133" y2="850" stroke="#111" stroke-width="5"/>
<line x1="153" y1="865" x2="153" y2="885" stroke="#111" stroke-width="5"/>
<line x1="370" y1="865" x2="370" y2="885" stroke="#111" stroke-width="5"/>
<line x1="585" y1="865" x2="585" y2="885" stroke="#111" stroke-width="5"/>
<line x1="802" y1="865" x2="802" y2="885" stroke="#111" stroke-width="5"/>
<line x1="1018" y1="865" x2="1018" y2="885" stroke="#111" stroke-width="5"/>
<line x1="1235" y1="865" x2="1235" y2="885" stroke="#111" stroke-width="5"/>
<text x="109" y="106" font-size="40" text-anchor="end" fill="#333" letter-spacing="-2">100</text>
<text x="109" y="294" font-size="40" text-anchor="end" fill="#333" letter-spacing="-2">75%</text>
<text x="109" y="482" font-size="40" text-anchor="end" fill="#333" letter-spacing="-2">50%</text>
<text x="109" y="671" font-size="40" text-anchor="end" fill="#333" letter-spacing="-2">25%</text>
<text x="109" y="864" font-size="40" text-anchor="end" fill="#333" letter-spacing="-2">0%</text>
<text x="153" y="923" font-size="40" text-anchor="middle" fill="#333">0</text>
<text x="370" y="923" font-size="40" text-anchor="middle" fill="#333">2</text>
<text x="585" y="923" font-size="40" text-anchor="middle" fill="#333">4</text>
<text x="802" y="923" font-size="40" text-anchor="middle" fill="#333">6</text>
<text x="1018" y="923" font-size="40" text-anchor="middle" fill="#333">8</text>
<text x="1235" y="923" font-size="40" text-anchor="middle" fill="#333">10</text>
<text x="699.0" y="957" font-size="40" text-anchor="middle" fill="#333" letter-spacing="-2">Years from diagnosis</text>
<rect x="975" y="82" width="267" height="153" fill="#fff" stroke="#111" stroke-width="6"/>
<line x1="995" y1="113" x2="1118" y2="113" stroke="#3a8fc8" stroke-width="6"/>
<text x="1140" y="127" font-size="38" fill="#333" letter-spacing="-2.5">0-14</text>
<line x1="995" y1="158" x2="1118" y2="158" stroke="#c8213f" stroke-width="6"/>
<text x="1140" y="172" font-size="38" fill="#333" letter-spacing="-2.5">15-40</text>
<line x1="995" y1="207" x2="1118" y2="207" stroke="#f5c400" stroke-width="6"/>
<text x="1140" y="221" font-size="38" fill="#333" letter-spacing="-2.5">>40</text>
</g>
<g transform="translate(680,1510) scale(0.22287)">
<line x1="160" y1="92" x2="1275" y2="92" stroke="#e3eeee" stroke-width="5"/>
<line x1="160" y1="280" x2="1275" y2="280" stroke="#e3eeee" stroke-width="5"/>
<line x1="160" y1="468" x2="1275" y2="468" stroke="#e3eeee" stroke-width="5"/>
<line x1="160" y1="657" x2="1275" y2="657" stroke="#e3eeee" stroke-width="5"/>
<line x1="160" y1="850" x2="1275" y2="850" stroke="#e3eeee" stroke-width="5"/>
<path d="M178,92 L245,92 L245,243 L275,243 L275,393 L292,393 L292,545 L307,545 L307,697 L1120,697 L1120,850" fill="none" stroke="#3a8fc8" stroke-width="6" stroke-linejoin="miter"/>
<path d="M178,92 L245,92 L245,280 L285,280 L285,468 L487,468 L487,657 L500,657 L500,850" fill="none" stroke="#c8213f" stroke-width="6" stroke-linejoin="miter"/>
<path d="M178,92 L230,92 L230,103 L237,103 L237,118 L245,118 L245,135 L255,135 L255,155 L265,155 L265,178 L275,178 L275,195 L285,195 L285,215 L292,215 L292,240 L300,240 L300,262 L325,262 L325,280 L340,280 L340,298 L352,298 L352,322 L368,322 L368,335 L382,335 L382,350 L393,350 L393,362 L432,362 L432,390 L437,390 L437,420 L467,420 L467,437 L495,437 L495,455 L510,455 L510,475 L525,475 L525,500 L535,500 L535,518 L560,518 L560,538 L593,538 L593,555 L603,555 L603,572 L613,572 L613,590 L622,590 L622,608 L652,608 L652,625 L663,625 L663,638 L808,638 L808,657 L840,657 L840,675 L925,675 L925,692 L1108,692 L1108,720 L1195,720" fill="none" stroke="#f5c400" stroke-width="6" stroke-linejoin="miter"/>
<path d="M178,92 L267,92 L267,135 L362,135 L362,180 L407,180 L407,235 L425,235 L425,290 L430,290 L430,347 L478,347 L478,410 L518,410 L518,472 L600,472 L600,565 L605,565 L605,622 L622,622 L622,697 L980,697 L980,850" fill="none" stroke="#1f6b2b" stroke-width="6" stroke-linejoin="miter"/>
<path d="M178,92 L1258,92" fill="none" stroke="#e8822e" stroke-width="6" stroke-linejoin="miter"/>
<path d="M160,70 L160,865 L1275,865" fill="none" stroke="#111" stroke-width="5.5"/>
<line x1="140" y1="92" x2="160" y2="92" stroke="#111" stroke-width="5"/>
<line x1="140" y1="280" x2="160" y2="280" stroke="#111" stroke-width="5"/>
<line x1="140" y1="468" x2="160" y2="468" stroke="#111" stroke-width="5"/>
<line x1="140" y1="657" x2="160" y2="657" stroke="#111" stroke-width="5"/>
<line x1="140" y1="850" x2="160" y2="850" stroke="#111" stroke-width="5"/>
<line x1="178" y1="865" x2="178" y2="885" stroke="#111" stroke-width="5"/>
<line x1="395" y1="865" x2="395" y2="885" stroke="#111" stroke-width="5"/>
<line x1="610" y1="865" x2="610" y2="885" stroke="#111" stroke-width="5"/>
<line x1="826" y1="865" x2="826" y2="885" stroke="#111" stroke-width="5"/>
<line x1="1042" y1="865" x2="1042" y2="885" stroke="#111" stroke-width="5"/>
<line x1="1258" y1="865" x2="1258" y2="885" stroke="#111" stroke-width="5"/>
<text x="136" y="106" font-size="40" text-anchor="end" fill="#333" letter-spacing="-2">100</text>
<text x="136" y="294" font-size="40" text-anchor="end" fill="#333" letter-spacing="-2">75%</text>
<text x="136" y="482" font-size="40" text-anchor="end" fill="#333" letter-spacing="-2">50%</text>
<text x="136" y="671" font-size="40" text-anchor="end" fill="#333" letter-spacing="-2">25%</text>
<text x="136" y="864" font-size="40" text-anchor="end" fill="#333" letter-spacing="-2">0%</text>
<text x="178" y="923" font-size="40" text-anchor="middle" fill="#333">0</text>
<text x="395" y="923" font-size="40" text-anchor="middle" fill="#333">2</text>
<text x="610" y="923" font-size="40" text-anchor="middle" fill="#333">4</text>
<text x="826" y="923" font-size="40" text-anchor="middle" fill="#333">6</text>
<text x="1042" y="923" font-size="40" text-anchor="middle" fill="#333">8</text>
<text x="1258" y="923" font-size="40" text-anchor="middle" fill="#333">10</text>
<text x="723.0" y="957" font-size="40" text-anchor="middle" fill="#333" letter-spacing="-2">Years from diagnosis</text>
<rect x="1007" y="342" width="261" height="253" fill="#fff" stroke="#111" stroke-width="6"/>
<line x1="1022" y1="377" x2="1145" y2="377" stroke="#3a8fc8" stroke-width="6"/>
<text x="1165" y="391" font-size="38" fill="#333" letter-spacing="-2.5">CB</text>
<line x1="1022" y1="423" x2="1145" y2="423" stroke="#c8213f" stroke-width="6"/>
<text x="1165" y="437" font-size="38" fill="#333" letter-spacing="-2.5">FB</text>
<line x1="1022" y1="470" x2="1145" y2="470" stroke="#f5c400" stroke-width="6"/>
<text x="1165" y="484" font-size="38" fill="#333" letter-spacing="-2.5">OB</text>
<line x1="1022" y1="517" x2="1145" y2="517" stroke="#1f6b2b" stroke-width="6"/>
<text x="1165" y="531" font-size="38" fill="#333" letter-spacing="-2.5">Other</text>
<line x1="1022" y1="563" x2="1145" y2="563" stroke="#e8822e" stroke-width="6"/>
<text x="1165" y="577" font-size="38" fill="#333" letter-spacing="-2.5">T</text>
</g>
</svg>
<div class="j" style="left:29.5px;top:513.4px;width:298.0px">Metastatic Osteosarcoma</div>
<div class="j" style="left:29.5px;top:542.5px;width:298.0px">(MOS) with synchronous</div>
<div class="j" style="left:29.5px;top:571.6px;width:298.0px">metastases at diagnosis</div>
<div class="j" style="left:29.5px;top:600.7px;width:298.0px">account 20-25% of all new</div>
<div class="j" style="left:29.5px;top:629.8px;width:298.0px">cases of osteosarcoma. Lungs</div>
<div class="j" style="left:29.5px;top:659.0px;width:298.0px">are the most common site of</div>
<div class="j" style="left:29.5px;top:688.1px;width:298.0px">metastases at presentation</div>
<div class="j" style="left:29.5px;top:717.2px;width:298.0px">(80%) followed by Bone</div>
<div class="j" style="left:29.5px;top:746.3px;width:298.0px">(10%). The 5 year Overall</div>
<div class="j" style="left:29.5px;top:775.4px;width:298.0px">Survival (OS) of MOS ranges</div>
<div class="j" style="left:29.5px;top:804.6px;width:298.0px">from 11 to 40%. In a previous</div>
<div class="j" style="left:29.5px;top:833.7px;width:298.0px">study from our Institution</div>
<div class="j" style="left:29.5px;top:862.8px;width:298.0px">(Bacci G, 2006) on 57 pts &lt;40</div>
<div class="j" style="left:29.5px;top:891.9px;width:298.0px">years old (1995-2000) the 2-</div>
<div class="j" style="left:29.5px;top:921.0px;width:298.0px">and 5-year OS were 55% and</div>
<div class="l" style="left:29.5px;top:950.2px;width:298.0px">18%.</div>
<div class="j" style="left:29.5px;top:1013.8px;width:298.0px"><span class="h" style="font-size:26px">METHODS</span><span class="hb">.</span> Data of</div>
<div class="j" style="left:29.5px;top:1045.2px;width:298.0px">patients with pathologic and</div>
<div class="j" style="left:29.5px;top:1074.3px;width:298.0px">radiologic confirmed MOS</div>
<div class="j" style="left:29.5px;top:1103.5px;width:298.0px">with adequate follow up were</div>
<div class="j" style="left:29.5px;top:1132.6px;width:298.0px">reviewed. Time-to-event</div>
<div class="j" style="left:29.5px;top:1161.7px;width:298.0px">outcomes were estimate with</div>
<div class="j" style="left:29.5px;top:1190.8px;width:298.0px">Kaplan-Meier method and</div>
<div class="j" style="left:29.5px;top:1219.9px;width:298.0px">compared between groups</div>
<div class="j" style="left:29.5px;top:1249.1px;width:298.0px">with log-rank test and Cox</div>
<div class="j" style="left:29.5px;top:1278.2px;width:298.0px">model (<i>EC Approval N</i></div>
<div class="l" style="left:29.5px;top:1307.3px;width:298.0px"><i>916/2020/Oss/ IOR).</i></div>
<div class="j" style="left:29.5px;top:1364.8px;width:298.0px"><span class="h" style="font-size:26px">RESULTS (1)</span> From August</div>
<div class="j" style="left:29.5px;top:1395.1px;width:298.0px">2000 to October 2018, 92</div>
<div class="j" style="left:29.5px;top:1424.2px;width:298.0px">patients had a diagnosis of</div>
<div class="j" style="left:29.5px;top:1453.3px;width:298.0px">MOS: median age 16.5 yrs (6-</div>
<div class="j" style="left:29.5px;top:1482.5px;width:298.0px">73, twelve pts &gt;40 ), gender</div>
<div class="j" style="left:29.5px;top:1511.6px;width:298.0px">rate was M 51/F 41, axial</div>
<div class="j" style="left:29.5px;top:1540.8px;width:298.0px">primary tumor in 15 cases,</div>
<div class="j" style="left:29.5px;top:1569.9px;width:298.0px">extremity in 77. Lung only</div>
<div class="j" style="left:29.5px;top:1599.0px;width:298.0px">metastases were described in</div>
<div class="j" style="left:29.5px;top:1628.2px;width:298.0px">66 (71.7%) cases. In 75/90</div>
<div class="j" style="left:29.5px;top:1657.3px;width:298.0px">cases primary tumor was</div>
<div class="j" style="left:29.5px;top:1686.5px;width:298.0px">surgically removed, 43 (46%)</div>
<div class="j" style="left:29.5px;top:1715.6px;width:298.0px">cases had at least one surgical</div>
<div class="j" style="left:29.5px;top:1744.7px;width:298.0px">metastasectomy. All patients</div>
<div class="j" style="left:29.5px;top:1773.9px;width:298.0px">received chemotherapy:</div>
<div class="j" style="left:29.5px;top:1803.0px;width:298.0px">preoperative only in 6 cases,</div>
<div class="j" style="left:29.5px;top:1832.2px;width:298.0px">postoperative in 6, and pre</div>
<div class="j" style="left:29.5px;top:1861.3px;width:298.0px">and postoperative in 66</div>
<div class="j" style="left:29.5px;top:1890.4px;width:298.0px">patients. The 1st line</div>
<div class="j" style="left:29.5px;top:1919.6px;width:298.0px">chemotherapy was a</div>
<div class="j" style="left:29.5px;top:1948.7px;width:298.0px">combination of drugs:</div>
<div class="j" style="left:29.5px;top:1977.9px;width:298.0px">adriamycin in 91/92 pts,</div>
<div class="j" style="left:29.5px;top:2007.0px;width:298.0px">Cisplatin in 89/92, Ifosfamide</div>
<div class="j" style="left:29.5px;top:2036.1px;width:298.0px">in 88/92, Methotrexate in</div>
<div class="l" style="left:29.5px;top:2065.3px;width:298.0px">83/92;</div>
<div class="j" style="left:1001.0px;top:473.9px;width:308.5px"><span class="h" style="font-size:26px">RESULTS</span> <span class="h" style="font-size:26px">(2)</span> 59 patients</div>
<div class="j" style="left:1001.0px;top:504.2px;width:308.5px">received 2<span class="sup">nd</span> line</div>
<div class="j" style="left:1001.0px;top:533.3px;width:308.5px">chemotherapy, 34 pts received</div>
<div class="j" style="left:1001.0px;top:562.4px;width:308.5px">a 3<span class="sup">rd</span> line; most employed</div>
<div class="j" style="left:1001.0px;top:591.5px;width:308.5px">regimen were Gemcitabine-</div>
<div class="j" style="left:1001.0px;top:620.6px;width:308.5px">Docetaxel, Ifosfamide 15</div>
<div class="j" style="left:1001.0px;top:649.7px;width:308.5px">gr/m<span class="sup">2</span>, Cyclophosphamyde-</div>
<div class="j" style="left:1001.0px;top:678.8px;width:308.5px">Etoposide, TKI (Pazopanib,</div>
<div class="j" style="left:1001.0px;top:708.0px;width:308.5px">Sorafenib),few received</div>
<div class="j" style="left:1001.0px;top:737.1px;width:308.5px">experimental drugs. Complete</div>
<div class="j" style="left:1001.0px;top:766.2px;width:308.5px">remission (CR) was obtained in</div>
<div class="j" style="left:1001.0px;top:795.3px;width:308.5px">26/92 (28%) in 19 cases after</div>
<div class="j" style="left:1001.0px;top:824.4px;width:308.5px">surgical metastasectomy .In 30</div>
<div class="j" style="left:1001.0px;top:853.5px;width:308.5px">pts the information of PGP (P-</div>
<div class="j" style="left:1001.0px;top:882.7px;width:308.5px">glycoprotein) was available, pts</div>
<div class="j" style="left:1001.0px;top:911.8px;width:308.5px">with positive PGP (19/30) had</div>
<div class="j" style="left:1001.0px;top:940.9px;width:308.5px">a worst overall survival</div>
<div class="j" style="left:1001.0px;top:970.0px;width:308.5px">compared to negative PGP</div>
<div class="j" style="left:1001.0px;top:999.1px;width:308.5px">(P=0.038). The 2-yrs OS for all</div>
<div class="j" style="left:1001.0px;top:1028.2px;width:308.5px">92 pts from diagnosis was 66%</div>
<div class="j" style="left:1001.0px;top:1057.4px;width:308.5px">(95%CI 55-75) and 5-yrs OS</div>
<div class="j" style="left:1001.0px;top:1086.5px;width:308.5px">was 26% (95% CI 16-37). From</div>
<div class="j" style="left:1001.0px;top:1115.6px;width:308.5px">the end of treatment, for those</div>
<div class="j" style="left:1001.0px;top:1144.7px;width:308.5px">who reached a Complete</div>
<div class="j" style="left:1001.0px;top:1173.8px;width:308.5px">Remission the 5-yrs OS was</div>
<div class="j" style="left:1001.0px;top:1202.9px;width:308.5px">57% and only 9% for those</div>
<div class="j" style="left:1001.0px;top:1232.1px;width:308.5px">who did not reach the</div>
<div class="j" style="left:1001.0px;top:1261.2px;width:308.5px">Complete Remission (P&lt;0.001).</div>
<div class="j" style="left:1001.0px;top:1290.3px;width:308.5px">At univariate analysis,  primary</div>
<div class="j" style="left:1001.0px;top:1319.4px;width:308.5px">tumor site (2-y OS 48% axial vs</div>
<div class="j" style="left:1001.0px;top:1348.5px;width:308.5px">72% extremity, P&lt;0.001),  type</div>
<div class="j" style="left:1001.0px;top:1377.6px;width:308.5px">of metastases (2-y OS 74% only</div>
<div class="j" style="left:1001.0px;top:1406.7px;width:308.5px">lung vs 48% other, P=0.004)</div>
<div class="j" style="left:1001.0px;top:1435.9px;width:308.5px">were significantly associated to</div>
<div class="j" style="left:1001.0px;top:1465.0px;width:308.5px">OS. The OS worsened</div>
<div class="j" style="left:1001.0px;top:1494.1px;width:308.5px">significantly also as the</div>
<div class="j" style="left:1001.0px;top:1523.2px;width:308.5px">number of lung nodules</div>
<div class="j" style="left:1001.0px;top:1552.3px;width:308.5px">increased (P=0.007). At</div>
<div class="j" style="left:1001.0px;top:1581.4px;width:308.5px">multivariable analysis, the site</div>
<div class="j" style="left:1001.0px;top:1610.6px;width:308.5px">of metastases (other vs. only</div>
<div class="j" style="left:1001.0px;top:1639.7px;width:308.5px">lung HR=2.26, 95%CI: 1.21-</div>
<div class="j" style="left:1001.0px;top:1668.8px;width:308.5px">4.22) and number of lung</div>
<div class="j" style="left:1001.0px;top:1697.9px;width:308.5px">nodules (≥10 nodules vs ≤3</div>
<div class="j" style="left:1001.0px;top:1727.0px;width:308.5px">HR=2.44, 95%CI: 1.24-4.81)</div>
<div class="j" style="left:1001.0px;top:1756.1px;width:308.5px">were confirmed as significant</div>
<div class="l" style="left:1001.0px;top:1785.3px;width:308.5px">predictor for OS.</div>
<div class="j" style="left:999.0px;top:1917.6px;width:257.8px">Compared to our previous</div>
<div class="j" style="left:999.0px;top:1946.8px;width:294.9px">report from 20 yrs ago, 2-year</div>
<div class="j" style="left:999.0px;top:1976.0px;width:292.0px">OS  was 66% vs 55% and 5 yrs</div>
<div class="j" style="left:999.0px;top:2005.2px;width:235.5px">OS was 26%  vs to 18% ,</div>
<div class="j" style="left:999.0px;top:2034.4px;width:252.9px">slightly  improved but still</div>
<div class="l" style="left:999.0px;top:2063.6px;width:300.0px">unsatisfactory.</div>
</body></html>
